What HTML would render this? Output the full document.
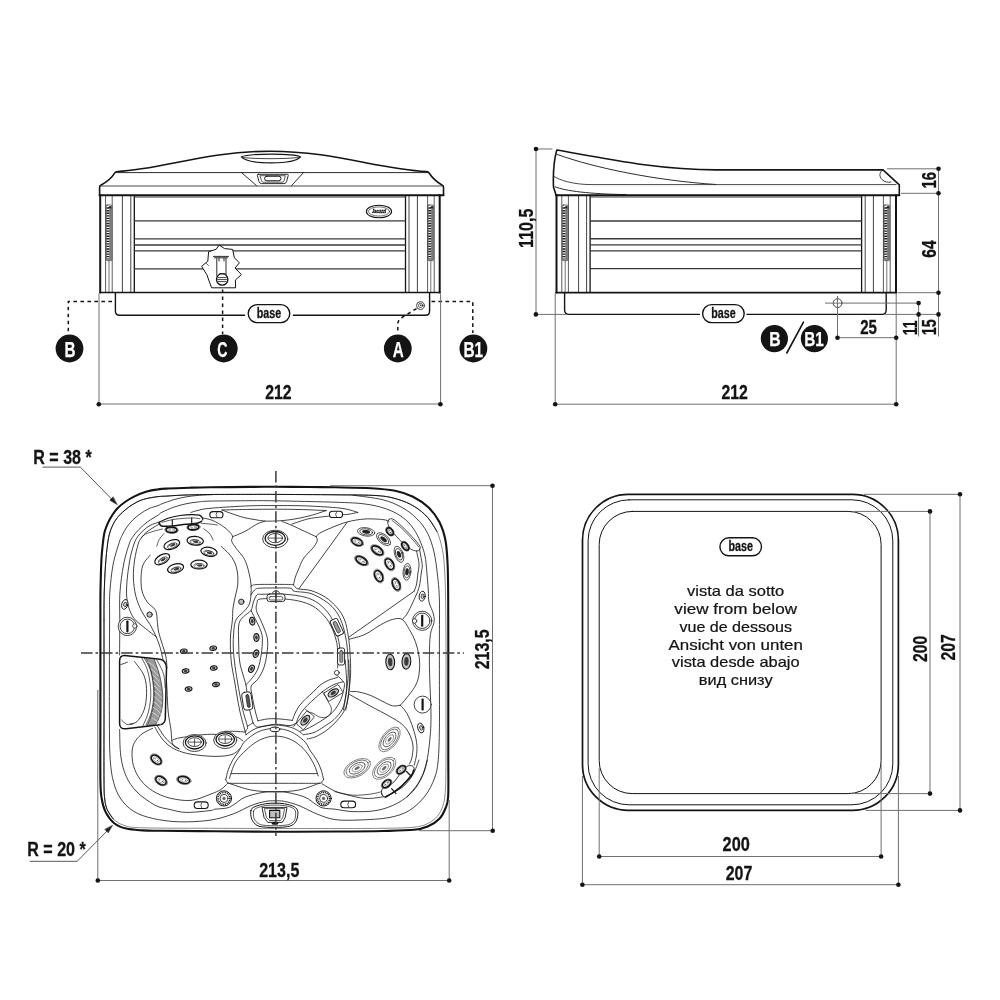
<!DOCTYPE html>
<html lang="en">
<head>
<meta charset="utf-8">
<title>Spa technical drawing</title>
<style>
html,body{margin:0;padding:0;background:#fff;}
body{width:1000px;height:1000px;overflow:hidden;font-family:'Liberation Sans', sans-serif;}
svg{display:block;will-change:transform;}
svg text{font-family:'Liberation Sans', sans-serif;}
</style>
</head>
<body>
<svg width="1000" height="1000" viewBox="0 0 1000 1000" fill="none" stroke-linecap="round" stroke-linejoin="round">
<rect x="0" y="0" width="1000" height="1000" fill="#ffffff"/>
<g id="front-view">
<path d="M99.6,195 L99.6,187 Q99.6,185.8 100.8,185.2 C108,181.5 112,177.5 114.6,173.2 Q115.6,171.5 117.5,171.5 C162.5,169.5 205,151.2 270,151.2 S378,169.5 426.5,171.6 Q428.3,171.7 429.3,173.2 C432,177.5 436,181.5 442.3,185.2 Q443.5,185.8 443.5,187 L443.5,195" stroke="#141414" stroke-width="1.6" fill="none" />
<path d="M116.5,172.6 L428,172.6 M241.5,172.6 L256.5,185.6 M303.5,172.6 L291.6,185.6" stroke="#141414" stroke-width="0.9" fill="none" />
<line x1="100" y1="186" x2="443" y2="186" stroke="#333" stroke-width="0.9" />
<line x1="99.6" y1="195.2" x2="443.5" y2="195.2" stroke="#141414" stroke-width="2.1" />
<path d="M241.2,156.9 C245,161 258,162.9 271,162.9 S297,161 300.6,156.9 C297,155 284,154.1 271,154.1 S245,155 241.2,156.9 Z" stroke="#141414" stroke-width="1.1" fill="none" />
<path d="M242.8,157.6 C252,158.4 262,158.7 271,158.7 S290,158.4 299,157.6" stroke="#141414" stroke-width="0.8" fill="none" />
<path d="M258.3,174.3 L287.3,174.3 Q288.6,174.3 288.2,175.6 L286.6,181.6 Q286,183.6 284,183.6 L261.6,183.6 Q259.6,183.6 259,181.6 L257.4,175.6 Q257,174.3 258.3,174.3 Z" stroke="#141414" stroke-width="0.9" fill="none" />
<path d="M260.3,175.7 L285.3,175.7 L284,181 Q283.6,182.2 282.4,182.2 L263.2,182.2 Q262,182.2 261.6,181 Z" stroke="#141414" stroke-width="0.7" fill="none" />
<rect x="264.6" y="176.2" width="16.4" height="4.6" rx="2.3" stroke="#141414" stroke-width="1"/>
<line x1="100.2" y1="195" x2="100.2" y2="292.4" stroke="#141414" stroke-width="2.0" />
<line x1="439.7" y1="195" x2="439.7" y2="292.4" stroke="#141414" stroke-width="2.0" />
<line x1="100" y1="292.5" x2="440" y2="292.5" stroke="#141414" stroke-width="1.7" />
<line x1="105.6" y1="196" x2="105.6" y2="292" stroke="#141414" stroke-width="0.7" />
<line x1="112.2" y1="196" x2="112.2" y2="292" stroke="#141414" stroke-width="0.7" />
<line x1="122.4" y1="196" x2="122.4" y2="292" stroke="#141414" stroke-width="0.8" />
<line x1="130.8" y1="196" x2="130.8" y2="292" stroke="#141414" stroke-width="0.8" />
<line x1="134.3" y1="196" x2="134.3" y2="292" stroke="#141414" stroke-width="1.3" />
<line x1="405.5" y1="196" x2="405.5" y2="292" stroke="#141414" stroke-width="1.3" />
<line x1="409" y1="196" x2="409" y2="292" stroke="#141414" stroke-width="0.8" />
<line x1="417.4" y1="196" x2="417.4" y2="292" stroke="#141414" stroke-width="0.8" />
<line x1="427.6" y1="196" x2="427.6" y2="292" stroke="#141414" stroke-width="0.7" />
<line x1="434.2" y1="196" x2="434.2" y2="292" stroke="#141414" stroke-width="0.7" />
<line x1="109" y1="261" x2="109" y2="292" stroke="#141414" stroke-width="0.6" />
<line x1="430.8" y1="261" x2="430.8" y2="292" stroke="#141414" stroke-width="0.6" />
<rect x="106.2" y="205" width="5.6" height="55.6" rx="1" fill="#fff" stroke="#222" stroke-width="0.7"/><rect x="109.3" y="206" width="2.4" height="54.1" fill="#777"/><line x1="107.9" y1="207.5" x2="107.9" y2="259.6" stroke="#1a1a1a" stroke-width="2.8" stroke-dasharray="1.35 1.2" stroke-linecap="butt"/><path d="M106.8,207.6l4.2,-1.6l0.4,2.4z" fill="#222"/>
<rect x="428" y="205" width="5.6" height="55.6" rx="1" fill="#fff" stroke="#222" stroke-width="0.7"/><rect x="431.1" y="206" width="2.4" height="54.1" fill="#777"/><line x1="429.7" y1="207.5" x2="429.7" y2="259.6" stroke="#1a1a1a" stroke-width="2.8" stroke-dasharray="1.35 1.2" stroke-linecap="butt"/><path d="M428.6,207.6l4.2,-1.6l0.4,2.4z" fill="#222"/>
<line x1="134.3" y1="197" x2="405.5" y2="197" stroke="#383838" stroke-width="1.0" stroke-linecap="butt"/>
<line x1="134.3" y1="220.8" x2="405.5" y2="220.8" stroke="#383838" stroke-width="1.3" stroke-linecap="butt"/>
<line x1="134.3" y1="238.9" x2="405.5" y2="238.9" stroke="#383838" stroke-width="1.4" stroke-linecap="butt"/>
<line x1="134.3" y1="245" x2="405.5" y2="245" stroke="#383838" stroke-width="1.3" stroke-linecap="butt"/>
<line x1="134.3" y1="250.9" x2="405.5" y2="250.9" stroke="#383838" stroke-width="1.3" stroke-linecap="butt"/>
<line x1="134.3" y1="268.8" x2="405.5" y2="268.8" stroke="#383838" stroke-width="1.3" stroke-linecap="butt"/>
<ellipse cx="379" cy="211.5" rx="12.6" ry="6.2" stroke="#141414" stroke-width="1.1"/>
<ellipse cx="379" cy="211.5" rx="10.6" ry="4.6" stroke="#141414" stroke-width="0.6"/>
<text x="379" y="213.2" font-size="4.6" font-weight="bold" text-anchor="middle" fill="#141414" stroke="#141414" stroke-width="0.3" stroke-linejoin="miter" textLength="14" lengthAdjust="spacingAndGlyphs" font-style="italic">Jacuzzi</text>
<path d="M115.4,293 L115.4,311 Q115.4,315.3 119.6,315.3 L244.6,315.3 M293.4,315.3 L425.4,315.3 Q429.6,315.3 429.6,311 L429.6,293" stroke="#141414" stroke-width="1.4" fill="none" />
<rect x="248.2" y="304.6" width="41.6" height="18" rx="9.0" fill="#fff" stroke="#141414" stroke-width="1.4"/><text x="269" y="317.90000000000003" font-size="14.5" font-weight="bold" text-anchor="middle" fill="#141414" stroke="#141414" stroke-width="0.3" stroke-linejoin="miter" textLength="24.4" lengthAdjust="spacingAndGlyphs" >base</text>
<circle cx="420.4" cy="305.6" r="3.9" stroke="#141414" stroke-width="0.8"/><circle cx="420.6" cy="305.4" r="2.1" stroke="#141414" stroke-width="0.7"/><circle cx="420.8" cy="305.2" r="0.8" fill="#141414"/>
<path d="M219.4,245.2 L224.5,248.6 L232.6,249.4 L234.4,257.8 L239.4,262.8 L235,268 L241.4,274.6 L235.4,280 L235.6,287.8 L211.6,287.8 L206.8,274.6 L201.6,266.4 L207.8,261.2 L208.6,251.8 L215.8,249.4 Z" stroke="#141414" stroke-width="1.0" fill="#fff" />
<path d="M213.4,256.4 L228.6,256.4 M214.5,257.8 L227.5,257.8 M216.8,258.5 L216.8,276 M226,258.5 L226,276 M219,258 L219,261 M224,258 L224,261" stroke="#141414" stroke-width="0.9" fill="none" />
<circle cx="222.2" cy="279.4" r="5.7" stroke="#141414" stroke-width="1.3" fill="#fff"/>
<path d="M218,277.6 L226.4,277.6 M217.6,279.6 L226.8,279.6 M218.2,281.6 L226.2,281.6 M219.5,273.8 L225,273.8" stroke="#141414" stroke-width="0.8" fill="none" />
<path d="M206.5,263.5 L208.5,265.5" stroke="#141414" stroke-width="0.7" fill="none" />
<path d="M112,301.4 L68.3,301.4 L68.3,333" stroke="#141414" stroke-width="1.5" fill="none" stroke-dasharray="3.6 3.4" stroke-linecap="butt"/>
<path d="M222.6,289.5 L222.6,334" stroke="#141414" stroke-width="1.5" fill="none" stroke-dasharray="3.6 3.4" stroke-linecap="butt"/>
<path d="M431.5,301.6 L472.8,301.6 L472.8,333" stroke="#141414" stroke-width="1.5" fill="none" stroke-dasharray="3.6 3.4" stroke-linecap="butt"/>
<path d="M416.5,308.6 L402,317.5 Q397.8,320 397.8,324 L397.8,334" stroke="#141414" stroke-width="1.5" fill="none" stroke-dasharray="3.6 3.4" stroke-linecap="butt"/>
<circle cx="69.5" cy="348.5" r="13.9" fill="#141414"/><text x="70.1" y="356.5" font-size="22" font-weight="bold" text-anchor="middle" fill="#fff" stroke="#fff" stroke-width="0.25" stroke-linejoin="miter" textLength="11" lengthAdjust="spacingAndGlyphs" >B</text>
<circle cx="223.75" cy="348.5" r="13.9" fill="#141414"/><text x="222.35" y="356.5" font-size="22" font-weight="bold" text-anchor="middle" fill="#fff" stroke="#fff" stroke-width="0.25" stroke-linejoin="miter" textLength="10.2" lengthAdjust="spacingAndGlyphs" >C</text>
<circle cx="397.8" cy="348.5" r="13.9" fill="#141414"/><text x="398.3" y="356.5" font-size="22" font-weight="bold" text-anchor="middle" fill="#fff" stroke="#fff" stroke-width="0.25" stroke-linejoin="miter" textLength="11" lengthAdjust="spacingAndGlyphs" >A</text>
<circle cx="473.4" cy="348.5" r="13.9" fill="#141414"/><text x="473.2" y="356.5" font-size="22" font-weight="bold" text-anchor="middle" fill="#fff" stroke="#fff" stroke-width="0.25" stroke-linejoin="miter" textLength="19.6" lengthAdjust="spacingAndGlyphs" >B1</text>
<line x1="99" y1="293.5" x2="99" y2="404" stroke="#6c7174" stroke-width="1" stroke-linecap="butt"/>
<line x1="440.6" y1="293.5" x2="440.6" y2="404" stroke="#6c7174" stroke-width="1" stroke-linecap="butt"/>
<line x1="99" y1="404" x2="440.6" y2="404" stroke="#6c7174" stroke-width="1" stroke-linecap="butt"/>
<circle cx="98.8" cy="404.2" r="2.3" fill="#141414"/>
<circle cx="440.4" cy="404.2" r="2.3" fill="#141414"/>
<text x="278.4" y="398.9" font-size="20" font-weight="bold" text-anchor="middle" fill="#141414" stroke="#141414" stroke-width="0.3" stroke-linejoin="miter" textLength="26.4" lengthAdjust="spacingAndGlyphs" >212</text>
</g>
<g id="side-view">
<path d="M556,195 L553.5,187 C553,175 554,160 556.8,150 C610,159.5 660,169.9 716.3,169.9 L883,169.9 L899.3,184.8 L899.3,195" stroke="#141414" stroke-width="1.6" fill="none" />
<path d="M557,154.4 C595,168 655,180.5 716,184.5" stroke="#141414" stroke-width="0.9" fill="none" />
<path d="M554,176.5 C560,180 572,184.6 592,184.6 L896,184.6" stroke="#333" stroke-width="0.9" fill="none" />
<path d="M555.2,186.8 C565,191 590,194 626,194.6" stroke="#141414" stroke-width="0.9" fill="none" />
<path d="M883,170 C879,172 879,176.5 882,179.5 C884.5,182 888,182.8 891,182" stroke="#141414" stroke-width="0.8" fill="none" />
<line x1="556" y1="195.2" x2="899.3" y2="195.2" stroke="#141414" stroke-width="2.1" />
<line x1="556.5" y1="195" x2="556.5" y2="292.5" stroke="#141414" stroke-width="2.0" />
<line x1="896" y1="195" x2="896" y2="292.5" stroke="#141414" stroke-width="2.0" />
<line x1="556" y1="292.7" x2="896.5" y2="292.7" stroke="#141414" stroke-width="1.7" />
<line x1="561.8" y1="196" x2="561.8" y2="292" stroke="#141414" stroke-width="0.7" />
<line x1="568.4" y1="196" x2="568.4" y2="292" stroke="#141414" stroke-width="0.7" />
<line x1="578.6" y1="196" x2="578.6" y2="292" stroke="#141414" stroke-width="0.8" />
<line x1="586.6" y1="196" x2="586.6" y2="292" stroke="#141414" stroke-width="0.8" />
<line x1="590.1" y1="196" x2="590.1" y2="292" stroke="#141414" stroke-width="1.3" />
<line x1="861.6" y1="196" x2="861.6" y2="292" stroke="#141414" stroke-width="1.3" />
<line x1="865.2" y1="196" x2="865.2" y2="292" stroke="#141414" stroke-width="0.8" />
<line x1="873.4" y1="196" x2="873.4" y2="292" stroke="#141414" stroke-width="0.8" />
<line x1="883.4" y1="196" x2="883.4" y2="292" stroke="#141414" stroke-width="0.7" />
<line x1="890.2" y1="196" x2="890.2" y2="292" stroke="#141414" stroke-width="0.7" />
<line x1="565.2" y1="261" x2="565.2" y2="292" stroke="#141414" stroke-width="0.6" />
<line x1="886.8" y1="261" x2="886.8" y2="292" stroke="#141414" stroke-width="0.6" />
<rect x="562.3" y="205" width="5.6" height="55.6" rx="1" fill="#fff" stroke="#222" stroke-width="0.7"/><rect x="565.4" y="206" width="2.4" height="54.1" fill="#777"/><line x1="564.0" y1="207.5" x2="564.0" y2="259.6" stroke="#1a1a1a" stroke-width="2.8" stroke-dasharray="1.35 1.2" stroke-linecap="butt"/><path d="M562.9,207.6l4.2,-1.6l0.4,2.4z" fill="#222"/>
<rect x="884" y="205" width="5.6" height="55.6" rx="1" fill="#fff" stroke="#222" stroke-width="0.7"/><rect x="887.1" y="206" width="2.4" height="54.1" fill="#777"/><line x1="885.7" y1="207.5" x2="885.7" y2="259.6" stroke="#1a1a1a" stroke-width="2.8" stroke-dasharray="1.35 1.2" stroke-linecap="butt"/><path d="M884.6,207.6l4.2,-1.6l0.4,2.4z" fill="#222"/>
<line x1="590.1" y1="197" x2="861.6" y2="197" stroke="#383838" stroke-width="1.0" stroke-linecap="butt"/>
<line x1="590.1" y1="221" x2="861.6" y2="221" stroke="#383838" stroke-width="1.3" stroke-linecap="butt"/>
<line x1="590.1" y1="238.8" x2="861.6" y2="238.8" stroke="#383838" stroke-width="1.4" stroke-linecap="butt"/>
<line x1="590.1" y1="244.9" x2="861.6" y2="244.9" stroke="#383838" stroke-width="1.3" stroke-linecap="butt"/>
<line x1="590.1" y1="250.8" x2="861.6" y2="250.8" stroke="#383838" stroke-width="1.3" stroke-linecap="butt"/>
<line x1="590.1" y1="268.6" x2="861.6" y2="268.6" stroke="#383838" stroke-width="1.3" stroke-linecap="butt"/>
<path d="M564.6,293 L564.6,310 Q564.6,314.4 569,314.4 L699.4,314.4 M747,314.4 L882,314.4 Q886.2,314.4 886.2,310 L886.2,293" stroke="#141414" stroke-width="1.4" fill="none" />
<rect x="702.6" y="304.6" width="41.6" height="18" rx="9.0" fill="#fff" stroke="#141414" stroke-width="1.4"/><text x="723.4" y="317.90000000000003" font-size="14.5" font-weight="bold" text-anchor="middle" fill="#141414" stroke="#141414" stroke-width="0.3" stroke-linejoin="miter" textLength="24.4" lengthAdjust="spacingAndGlyphs" >base</text>
<circle cx="837.6" cy="303.1" r="4.4" stroke="#141414" stroke-width="0.8"/>
<line x1="825" y1="303.1" x2="918.6" y2="303.1" stroke="#6c7174" stroke-width="1" stroke-linecap="butt"/>
<line x1="837.5" y1="296" x2="837.5" y2="337.7" stroke="#6c7174" stroke-width="1" stroke-linecap="butt"/>
<circle cx="774.4" cy="338.6" r="13.6" fill="#141414"/><text x="774.9" y="345.6" font-size="20.3" font-weight="bold" text-anchor="middle" fill="#fff" stroke="#fff" stroke-width="0.25" stroke-linejoin="miter" textLength="11.4" lengthAdjust="spacingAndGlyphs" >B</text>
<circle cx="814.4" cy="338.6" r="13.6" fill="#141414"/><text x="814.0" y="345.6" font-size="20.3" font-weight="bold" text-anchor="middle" fill="#fff" stroke="#fff" stroke-width="0.25" stroke-linejoin="miter" textLength="19.6" lengthAdjust="spacingAndGlyphs" >B1</text>
<line x1="803.5" y1="322.2" x2="786.8" y2="353" stroke="#141414" stroke-width="1.6" />
<line x1="536" y1="149" x2="536" y2="314.4" stroke="#6c7174" stroke-width="1" stroke-linecap="butt"/>
<line x1="536" y1="149" x2="552.5" y2="149" stroke="#6c7174" stroke-width="1" stroke-linecap="butt"/>
<line x1="536" y1="314.4" x2="566" y2="314.4" stroke="#6c7174" stroke-width="1" stroke-linecap="butt"/>
<circle cx="536" cy="149" r="2.3" fill="#141414"/>
<circle cx="535.9" cy="314.4" r="2.3" fill="#141414"/>
<text x="533" y="228.2" font-size="20" font-weight="bold" text-anchor="middle" fill="#141414" stroke="#141414" stroke-width="0.3" stroke-linejoin="miter" textLength="39.4" lengthAdjust="spacingAndGlyphs" transform="rotate(-90 533 228.2)" >110,5</text>
<line x1="555.2" y1="293.5" x2="555.2" y2="404.2" stroke="#6c7174" stroke-width="1" stroke-linecap="butt"/>
<line x1="896.2" y1="293.5" x2="896.2" y2="404.2" stroke="#6c7174" stroke-width="1" stroke-linecap="butt"/>
<line x1="555.2" y1="404.2" x2="896.2" y2="404.2" stroke="#6c7174" stroke-width="1" stroke-linecap="butt"/>
<circle cx="555.2" cy="404.2" r="2.3" fill="#141414"/>
<circle cx="896.2" cy="404.2" r="2.3" fill="#141414"/>
<text x="734.7" y="399" font-size="20" font-weight="bold" text-anchor="middle" fill="#141414" stroke="#141414" stroke-width="0.3" stroke-linejoin="miter" textLength="26.4" lengthAdjust="spacingAndGlyphs" >212</text>
<line x1="887" y1="168.8" x2="938.5" y2="168.8" stroke="#6c7174" stroke-width="1" stroke-linecap="butt"/>
<line x1="901" y1="193.3" x2="938.5" y2="193.3" stroke="#6c7174" stroke-width="1" stroke-linecap="butt"/>
<line x1="898" y1="292.7" x2="938.5" y2="292.7" stroke="#6c7174" stroke-width="1" stroke-linecap="butt"/>
<line x1="885" y1="314.4" x2="938.5" y2="314.4" stroke="#6c7174" stroke-width="1" stroke-linecap="butt"/>
<line x1="938.5" y1="168.8" x2="938.5" y2="336.5" stroke="#6c7174" stroke-width="1" stroke-linecap="butt"/>
<line x1="918.6" y1="303.1" x2="918.6" y2="336.5" stroke="#6c7174" stroke-width="1" stroke-linecap="butt"/>
<line x1="837.5" y1="337.7" x2="896.2" y2="337.7" stroke="#6c7174" stroke-width="1" stroke-linecap="butt"/>
<circle cx="938.5" cy="168.8" r="2.3" fill="#141414"/>
<circle cx="938.5" cy="193.3" r="2.3" fill="#141414"/>
<circle cx="938.5" cy="292.7" r="2.3" fill="#141414"/>
<circle cx="938.5" cy="314.4" r="2.3" fill="#141414"/>
<circle cx="918.6" cy="303.1" r="2.3" fill="#141414"/>
<circle cx="918.6" cy="314.4" r="2.3" fill="#141414"/>
<circle cx="837.5" cy="337.7" r="2.3" fill="#141414"/>
<circle cx="896.2" cy="337.7" r="2.3" fill="#141414"/>
<text x="935.9" y="180.3" font-size="20" font-weight="bold" text-anchor="middle" fill="#141414" stroke="#141414" stroke-width="0.3" stroke-linejoin="miter" textLength="16.6" lengthAdjust="spacingAndGlyphs" transform="rotate(-90 935.9 180.3)" >16</text>
<text x="935.9" y="249.1" font-size="20" font-weight="bold" text-anchor="middle" fill="#141414" stroke="#141414" stroke-width="0.3" stroke-linejoin="miter" textLength="17.3" lengthAdjust="spacingAndGlyphs" transform="rotate(-90 935.9 249.1)" >64</text>
<text x="916.6" y="327.8" font-size="20" font-weight="bold" text-anchor="middle" fill="#141414" stroke="#141414" stroke-width="0.3" stroke-linejoin="miter" textLength="15" lengthAdjust="spacingAndGlyphs" transform="rotate(-90 916.6 327.8)" >11</text>
<text x="936.1" y="327.3" font-size="20" font-weight="bold" text-anchor="middle" fill="#141414" stroke="#141414" stroke-width="0.3" stroke-linejoin="miter" textLength="16" lengthAdjust="spacingAndGlyphs" transform="rotate(-90 936.1 327.3)" >15</text>
<text x="868.6" y="334.3" font-size="20" font-weight="bold" text-anchor="middle" fill="#141414" stroke="#141414" stroke-width="0.3" stroke-linejoin="miter" textLength="16.8" lengthAdjust="spacingAndGlyphs" >25</text>
</g>
<g id="bottom-view">
<rect x="582.5" y="494.3" width="315.9" height="316.1" rx="46" stroke="#141414" stroke-width="1.7"/>
<rect x="588.1" y="499.8" width="304.7" height="305.0" rx="41" stroke="#141414" stroke-width="1.0"/>
<rect x="599.2" y="511.4" width="281.9" height="282.2" rx="33" stroke="#141414" stroke-width="1.0"/>
<rect x="719.9000000000001" y="537.8" width="41.6" height="18" rx="9.0" fill="#fff" stroke="#141414" stroke-width="1.4"/><text x="740.7" y="551.0999999999999" font-size="14.5" font-weight="bold" text-anchor="middle" fill="#141414" stroke="#141414" stroke-width="0.3" stroke-linejoin="miter" textLength="24.4" lengthAdjust="spacingAndGlyphs" >base</text>
<text x="735.7" y="595.6" font-size="14.8" font-weight="normal" text-anchor="middle" fill="#141414" textLength="97.2" lengthAdjust="spacingAndGlyphs" stroke="#141414" stroke-width="0.22">vista da sotto</text>
<text x="735.7" y="613.6" font-size="14.8" font-weight="normal" text-anchor="middle" fill="#141414" textLength="122.7" lengthAdjust="spacingAndGlyphs" stroke="#141414" stroke-width="0.22">view from below</text>
<text x="735.7" y="631.5" font-size="14.8" font-weight="normal" text-anchor="middle" fill="#141414" textLength="112.5" lengthAdjust="spacingAndGlyphs" stroke="#141414" stroke-width="0.22">vue de dessous</text>
<text x="735.7" y="649.5" font-size="14.8" font-weight="normal" text-anchor="middle" fill="#141414" textLength="134.4" lengthAdjust="spacingAndGlyphs" stroke="#141414" stroke-width="0.22">Ansicht von unten</text>
<text x="735.7" y="667.3" font-size="14.8" font-weight="normal" text-anchor="middle" fill="#141414" textLength="127.8" lengthAdjust="spacingAndGlyphs" stroke="#141414" stroke-width="0.22">vista desde abajo</text>
<text x="735.7" y="685.2" font-size="14.8" font-weight="normal" text-anchor="middle" fill="#141414" textLength="73.8" lengthAdjust="spacingAndGlyphs" stroke="#141414" stroke-width="0.22">вид снизу</text>
<line x1="864" y1="494.3" x2="960" y2="494.3" stroke="#6c7174" stroke-width="1" stroke-linecap="butt"/>
<line x1="854.4" y1="511.4" x2="930" y2="511.4" stroke="#6c7174" stroke-width="1" stroke-linecap="butt"/>
<line x1="851" y1="793.6" x2="930" y2="793.6" stroke="#6c7174" stroke-width="1" stroke-linecap="butt"/>
<line x1="865.6" y1="810.4" x2="960" y2="810.4" stroke="#6c7174" stroke-width="1" stroke-linecap="butt"/>
<line x1="930" y1="511.4" x2="930" y2="793.6" stroke="#6c7174" stroke-width="1" stroke-linecap="butt"/>
<line x1="960" y1="494.3" x2="960" y2="810.4" stroke="#6c7174" stroke-width="1" stroke-linecap="butt"/>
<line x1="599.2" y1="768" x2="599.2" y2="856.5" stroke="#6c7174" stroke-width="1" stroke-linecap="butt"/>
<line x1="881.1" y1="764" x2="881.1" y2="856.5" stroke="#6c7174" stroke-width="1" stroke-linecap="butt"/>
<line x1="599.2" y1="856.5" x2="881.1" y2="856.5" stroke="#6c7174" stroke-width="1" stroke-linecap="butt"/>
<line x1="582.4" y1="776" x2="582.4" y2="884.7" stroke="#6c7174" stroke-width="1" stroke-linecap="butt"/>
<line x1="898.4" y1="776" x2="898.4" y2="884.7" stroke="#6c7174" stroke-width="1" stroke-linecap="butt"/>
<line x1="582.4" y1="884.7" x2="898.4" y2="884.7" stroke="#6c7174" stroke-width="1" stroke-linecap="butt"/>
<circle cx="960" cy="494.3" r="2.3" fill="#141414"/>
<circle cx="930" cy="511.4" r="2.3" fill="#141414"/>
<circle cx="930" cy="793.6" r="2.3" fill="#141414"/>
<circle cx="960" cy="810.4" r="2.3" fill="#141414"/>
<circle cx="599.2" cy="856.5" r="2.3" fill="#141414"/>
<circle cx="881.1" cy="856.5" r="2.3" fill="#141414"/>
<circle cx="582.4" cy="884.7" r="2.3" fill="#141414"/>
<circle cx="898.4" cy="884.7" r="2.3" fill="#141414"/>
<text x="736.2" y="850.7" font-size="20" font-weight="bold" text-anchor="middle" fill="#141414" stroke="#141414" stroke-width="0.3" stroke-linejoin="miter" textLength="27.2" lengthAdjust="spacingAndGlyphs" >200</text>
<text x="739" y="880.3" font-size="20" font-weight="bold" text-anchor="middle" fill="#141414" stroke="#141414" stroke-width="0.3" stroke-linejoin="miter" textLength="26.6" lengthAdjust="spacingAndGlyphs" >207</text>
<text x="926.7" y="648.9" font-size="20" font-weight="bold" text-anchor="middle" fill="#141414" stroke="#141414" stroke-width="0.3" stroke-linejoin="miter" textLength="26" lengthAdjust="spacingAndGlyphs" transform="rotate(-90 926.7 648.9)" >200</text>
<text x="954.7" y="647.3" font-size="20" font-weight="bold" text-anchor="middle" fill="#141414" stroke="#141414" stroke-width="0.3" stroke-linejoin="miter" textLength="26.2" lengthAdjust="spacingAndGlyphs" transform="rotate(-90 954.7 647.3)" >207</text>
</g>
<g id="top-view">
<path d="M100.4,620.0C100.4,608.3 100.3,600.0 100.5,590.0C100.7,580.0 101.0,567.7 101.4,560.0C101.8,552.3 102.3,548.7 102.8,544.0C103.3,539.3 103.7,535.6 104.6,532.0C105.5,528.4 106.8,525.4 108.2,522.4C109.6,519.4 111.4,516.4 113.0,514.0C114.6,511.6 115.8,510.0 117.8,508.0C119.8,506.0 122.3,503.9 125.0,502.0C127.7,500.1 130.5,498.3 134.0,496.6C137.5,494.9 142.0,493.0 146.0,491.8C150.0,490.6 154.3,489.9 158.0,489.4C161.7,488.8 162.7,488.8 168.0,488.5C173.3,488.2 183.0,487.9 190.0,487.7C197.0,487.5 200.0,487.4 210.0,487.3C220.0,487.2 239.2,487.0 250.0,486.9C260.8,486.8 265.0,486.8 275.0,486.8C285.0,486.8 300.0,486.9 310.0,487.0C320.0,487.1 324.8,487.1 335.0,487.3C345.2,487.5 361.0,487.6 371.0,488.2C381.0,488.8 388.0,489.4 395.0,490.8C402.0,492.2 407.4,494.0 413.0,496.8C418.6,499.6 424.2,503.4 428.6,507.6C433.0,511.8 436.6,516.6 439.4,522.0C442.2,527.4 444.0,533.0 445.4,540.0C446.8,547.0 447.1,554.0 447.6,564.0C448.1,574.0 448.1,584.0 448.2,600.0C448.3,616.0 448.3,640.0 448.3,660.0C448.3,680.0 448.3,703.3 448.3,720.0C448.3,736.7 448.3,747.3 448.3,760.0C448.3,772.7 448.6,788.0 448.2,796.0C447.8,804.0 447.1,804.2 445.6,808.0C444.1,811.8 442.2,815.8 439.4,818.8C436.6,821.8 432.8,824.2 428.6,826.0C424.4,827.8 421.8,829.0 414.2,829.8C406.6,830.6 396.2,830.7 383.0,831.0C369.8,831.3 353.0,831.4 335.0,831.5C317.0,831.6 295.0,831.8 275.0,831.7C255.0,831.7 234.2,831.4 215.0,831.2C195.8,831.1 172.0,830.9 160.0,830.8C148.0,830.7 148.6,830.8 143.0,830.4C137.4,830.0 131.0,829.8 126.2,828.6C121.4,827.4 117.6,825.9 114.2,823.2C110.8,820.5 107.9,816.6 105.8,812.4C103.7,808.2 102.5,803.4 101.6,798.0C100.7,792.6 100.6,793.0 100.4,780.0C100.2,767.0 100.4,740.0 100.4,720.0C100.4,700.0 100.4,676.7 100.4,660.0C100.4,643.3 100.4,631.7 100.4,620.0Z" stroke="#141414" stroke-width="2.1" fill="none" />
<path d="M104.0,620.0C104.0,608.8 104.0,602.2 104.2,593.0C104.5,583.8 104.9,573.2 105.5,565.0C106.1,556.8 106.8,549.5 107.6,544.0C108.3,538.5 108.9,535.6 110.0,532.0C111.1,528.4 112.8,525.0 114.2,522.4C115.6,519.8 117.0,518.1 118.4,516.4C119.8,514.7 120.8,513.8 122.6,512.2C124.4,510.6 126.8,508.5 129.2,506.8C131.6,505.1 134.2,503.4 137.0,502.0C139.8,500.6 142.5,499.6 146.0,498.7C149.5,497.8 154.3,497.1 158.0,496.6C161.7,496.2 163.3,496.3 168.0,496.0C172.7,495.7 179.0,495.2 186.0,495.0C193.0,494.8 199.3,494.6 210.0,494.5C220.7,494.4 239.2,494.4 250.0,494.4C260.8,494.4 260.8,494.3 275.0,494.4C289.2,494.5 318.0,494.6 335.0,494.8C352.0,495.0 366.6,494.9 377.0,495.6C387.4,496.3 391.2,497.4 397.4,499.2C403.6,501.0 409.2,503.4 414.2,506.4C419.2,509.4 423.6,513.0 427.4,517.2C431.2,521.4 434.5,526.2 437.0,531.6C439.5,537.0 441.1,543.2 442.4,549.6C443.7,556.0 444.1,561.6 444.6,570.0C445.1,578.4 445.4,588.3 445.6,600.0C445.8,611.7 445.9,623.3 446.0,640.0C446.1,656.7 446.0,680.0 446.0,700.0C446.0,720.0 446.1,745.0 446.0,760.0C445.9,775.0 445.9,782.4 445.4,790.0C444.9,797.6 444.4,801.1 443.0,805.5C441.6,809.9 439.9,813.2 437.3,816.2C434.7,819.2 431.5,821.8 427.6,823.6C423.7,825.4 421.4,826.4 414.0,827.2C406.6,828.0 396.2,828.1 383.0,828.3C369.8,828.5 353.0,828.5 335.0,828.5C317.0,828.5 295.0,828.5 275.0,828.5C255.0,828.5 237.0,828.4 215.0,828.3C193.0,828.2 158.1,828.3 143.0,827.8C127.9,827.3 129.1,826.9 124.2,825.4C119.3,823.9 116.2,821.6 113.4,819.0C110.6,816.4 108.7,813.1 107.2,809.6C105.7,806.1 105.1,802.9 104.6,798.0C104.1,793.1 104.1,793.0 104.0,780.0C103.9,767.0 104.0,740.0 104.0,720.0C104.0,700.0 104.0,676.7 104.0,660.0C104.0,643.3 104.0,631.2 104.0,620.0Z" stroke="#3a3a3a" stroke-width="0.6" fill="none" />
<path d="M113.4,819.0C112.4,817.4 108.7,813.1 107.2,809.6C105.7,806.1 105.1,802.9 104.6,798.0C104.1,793.1 104.1,793.0 104.0,780.0C103.9,767.0 104.0,740.0 104.0,720.0C104.0,700.0 104.0,676.7 104.0,660.0C104.0,643.3 104.0,631.2 104.0,620.0C104.0,608.8 104.0,602.2 104.2,593.0C104.5,583.8 104.9,573.2 105.5,565.0C106.1,556.8 106.8,549.5 107.6,544.0C108.3,538.5 108.9,535.6 110.0,532.0C111.1,528.4 112.8,525.0 114.2,522.4C115.6,519.8 117.0,518.1 118.4,516.4C119.8,514.7 120.8,513.8 122.6,512.2C124.4,510.6 126.8,508.5 129.2,506.8C131.6,505.1 134.2,503.4 137.0,502.0C139.8,500.6 142.5,499.6 146.0,498.7C149.5,497.8 154.3,497.1 158.0,496.6C161.7,496.2 163.3,496.3 168.0,496.0C172.7,495.7 179.0,495.2 186.0,495.0C193.0,494.8 199.3,494.6 210.0,494.5C220.7,494.4 239.2,494.4 250.0,494.4C260.8,494.4 260.8,494.3 275.0,494.4C289.2,494.5 318.0,494.6 335.0,494.8C352.0,495.0 366.6,494.9 377.0,495.6C387.4,496.3 391.2,497.4 397.4,499.2C403.6,501.0 409.2,503.4 414.2,506.4C419.2,509.4 423.6,513.0 427.4,517.2C431.2,521.4 435.4,529.2 437.0,531.6" stroke="#141414" stroke-width="1.0" fill="none" />
<path d="M212.0,494.7C209.7,494.8 202.3,495.0 198.0,495.4C193.7,495.8 190.0,496.2 186.0,496.9C182.0,497.6 178.0,498.5 174.0,499.6C170.0,500.8 164.7,502.8 162.0,503.8C159.3,504.8 160.2,504.8 158.0,505.6C155.8,506.4 152.0,507.2 149.0,508.6C146.0,510.0 142.7,512.1 140.0,514.0C137.3,515.9 135.0,517.8 132.8,520.0C130.6,522.2 128.6,524.6 126.8,527.2C125.0,529.8 123.3,532.8 122.0,535.6C120.7,538.4 120.2,539.1 118.7,544.0C117.2,548.9 114.5,556.8 113.0,565.0C111.5,573.2 110.4,583.8 109.8,593.0C109.2,602.2 109.7,605.5 109.6,620.0C109.5,634.5 109.4,663.3 109.4,680.0C109.4,696.7 109.3,707.3 109.4,720.0C109.5,732.7 109.4,746.0 110.0,756.0C110.6,766.0 111.3,773.0 113.0,780.0C114.7,787.0 116.8,792.8 120.2,798.0C123.6,803.2 128.0,807.8 133.4,811.2C138.8,814.6 145.0,816.6 152.6,818.4C160.2,820.2 169.4,821.5 179.0,821.8C188.6,822.1 201.0,821.5 210.0,820.2C219.0,818.9 226.2,816.4 233.0,814.0C239.8,811.6 245.6,807.7 251.0,805.6C256.4,803.5 261.4,802.2 265.4,801.4C269.4,800.6 271.8,800.8 275.0,800.8C278.2,800.8 280.6,800.6 284.6,801.4C288.6,802.2 293.6,803.5 299.0,805.6C304.4,807.7 311.0,811.7 317.0,814.0C323.0,816.3 328.0,818.6 335.0,819.6C342.0,820.6 350.0,820.3 359.0,820.0C368.0,819.7 380.6,819.2 389.0,817.6C397.4,816.0 403.4,814.0 409.4,810.4C415.4,806.8 420.8,801.4 425.0,796.0C429.2,790.6 432.4,784.0 434.6,778.0C436.8,772.0 437.4,768.3 438.2,760.0C439.0,751.7 439.2,741.3 439.4,728.0C439.6,714.7 439.4,694.7 439.4,680.0C439.4,665.3 439.4,653.3 439.4,640.0C439.4,626.7 439.7,610.7 439.4,600.0C439.1,589.3 438.5,584.0 437.6,576.0C436.7,568.0 435.7,559.2 434.0,552.0C432.3,544.8 430.3,538.4 427.4,532.8C424.5,527.2 420.8,522.6 416.6,518.4C412.4,514.2 407.8,510.7 402.2,507.6C396.6,504.5 391.2,501.9 383.0,499.8C374.8,497.7 358.0,496.0 353.0,495.2" stroke="#141414" stroke-width="0.8" fill="none" />
<path d="M119.6,655.0C119.6,649.2 119.8,630.3 119.8,620.0C119.8,609.7 119.3,602.2 119.9,593.0C120.5,583.8 122.0,573.2 123.5,565.0C125.0,556.8 127.6,548.7 129.2,544.0C130.8,539.3 131.2,539.2 132.8,536.8C134.4,534.4 136.6,531.9 138.8,529.6C141.0,527.3 143.8,524.8 146.0,523.0C148.2,521.2 150.0,520.1 152.0,518.8C154.0,517.5 156.3,516.3 158.0,515.2C159.7,514.1 159.3,513.6 162.0,512.2C164.7,510.9 170.0,508.5 174.0,507.1C178.0,505.7 182.0,504.7 186.0,503.8C190.0,502.9 194.0,502.4 198.0,502.0C202.0,501.6 201.3,501.3 210.0,501.1C218.7,500.9 239.2,500.8 250.0,500.7C260.8,500.6 260.8,500.6 275.0,500.8C289.2,501.1 320.0,501.7 335.0,502.2C350.0,502.7 356.4,502.9 365.0,504.0C373.6,505.1 380.4,506.8 386.6,509.0C392.8,511.2 397.8,513.8 402.2,517.0C406.6,520.2 409.9,523.8 413.0,528.0C416.1,532.2 418.5,537.3 420.5,542.0C422.5,546.7 424.0,551.3 425.0,556.0C426.0,560.7 426.1,564.3 426.7,570.0C427.2,575.7 427.9,584.7 428.3,590.0C428.7,595.3 428.1,598.0 429.0,602.0C429.9,606.0 432.6,610.6 433.4,614.0C434.2,617.4 434.5,619.0 434.0,622.4C433.5,625.8 431.2,628.8 430.4,634.4C429.6,640.0 429.5,648.4 429.4,656.0C429.3,663.6 429.5,670.0 429.8,680.0C430.1,690.0 431.0,706.0 431.0,716.0C431.0,726.0 430.6,732.0 429.8,740.0C429.0,748.0 428.0,757.0 426.2,764.0C424.4,771.0 422.2,776.5 419.0,782.0C415.8,787.5 409.0,794.5 407.0,797.0" stroke="#141414" stroke-width="0.8" fill="none" />
<path d="M119.6,729.6C119.8,734.0 119.7,748.2 120.8,756.0C121.9,763.8 123.5,770.4 126.2,776.4C128.9,782.4 132.2,787.2 137.0,792.0C141.8,796.8 149.5,802.3 155.0,805.2C160.5,808.1 164.8,808.3 170.0,809.5C175.2,810.7 179.3,812.2 186.0,812.4C192.7,812.6 205.2,811.1 210.0,810.6C214.8,810.1 212.2,809.6 215.0,809.2C217.8,808.8 223.8,808.8 227.0,808.0C230.2,807.2 231.2,806.2 234.2,804.4C237.2,802.6 240.2,799.2 245.0,797.2C249.8,795.2 258.0,793.3 263.0,792.4C268.0,791.5 271.0,791.8 275.0,791.8C279.0,791.8 282.0,791.5 287.0,792.4C292.0,793.3 300.2,795.2 305.0,797.2C309.8,799.2 312.8,802.6 315.8,804.4C318.8,806.2 319.8,807.2 323.0,808.0C326.2,808.8 330.0,808.6 335.0,809.2C340.0,809.8 346.0,811.4 353.0,811.6C360.0,811.8 369.6,811.8 377.0,810.4C384.4,809.0 391.4,806.4 397.4,803.2C403.4,800.0 408.8,795.8 413.0,791.2C417.2,786.6 420.2,780.8 422.6,775.6C425.0,770.4 426.6,762.6 427.4,760.0" stroke="#141414" stroke-width="0.8" fill="none" />
<path d="M159.5,522.0C157.9,522.6 152.8,523.9 150.0,525.4C147.2,526.9 145.1,528.9 143.0,530.8C140.9,532.7 139.1,534.6 137.6,536.8C136.1,539.0 135.3,540.1 134.0,544.0C132.7,547.9 131.0,553.3 129.8,560.0C128.6,566.7 127.2,577.0 126.8,584.0C126.4,591.0 126.3,596.4 127.4,602.0C128.5,607.6 130.4,613.2 133.4,617.6C136.4,622.0 141.6,625.2 145.4,628.4C149.2,631.6 154.4,635.4 156.2,636.8" stroke="#141414" stroke-width="0.8" fill="none" />
<path d="M160.0,523.5C158.7,524.3 154.3,526.9 152.0,528.4C149.7,529.9 147.8,531.0 146.0,532.6C144.2,534.2 142.5,536.1 141.2,538.0C139.9,539.9 139.3,540.3 138.2,544.0C137.1,547.7 135.4,554.3 134.6,560.0C133.8,565.7 133.2,572.0 133.4,578.0C133.6,584.0 134.4,590.4 135.8,596.0C137.2,601.6 139.4,606.8 141.8,611.6C144.2,616.4 147.8,620.6 150.2,624.8C152.6,629.0 154.6,633.2 156.2,636.8C157.8,640.4 158.8,643.2 159.8,646.4C160.8,649.6 161.7,653.7 162.2,656.0C162.7,658.3 162.9,659.3 163.0,660.0" stroke="#141414" stroke-width="0.8" fill="none" />
<path d="M162.5,529.0C161.0,529.4 156.3,530.4 153.5,531.3C150.7,532.2 147.5,533.1 145.4,534.2C143.3,535.3 141.7,537.4 141.0,538.0" stroke="#141414" stroke-width="0.7" fill="none" />
<path d="M150.2,555.2C149.1,556.6 145.1,560.4 143.6,563.6C142.1,566.8 141.5,570.0 141.2,574.4C140.9,578.8 140.8,585.4 141.8,590.0C142.8,594.6 144.9,598.6 147.2,602.0C149.5,605.4 153.9,607.0 155.6,610.4C157.3,613.8 156.9,618.8 157.4,622.4C157.9,626.0 157.8,628.4 158.6,632.0C159.4,635.6 161.0,640.0 162.2,644.0C163.4,648.0 165.0,652.0 165.8,656.0C166.6,660.0 166.8,666.0 167.0,668.0" stroke="#141414" stroke-width="0.8" fill="none" />
<path d="M164.0,533.6C163.2,534.6 160.4,537.5 159.2,539.6C158.0,541.7 157.2,545.1 156.8,546.2" stroke="#141414" stroke-width="0.7" fill="none" />
<path d="M203.6,528.8C204.6,529.6 208.0,531.7 209.6,533.6C211.2,535.5 212.6,539.1 213.2,540.2" stroke="#141414" stroke-width="0.7" fill="none" />
<path d="M190.8,512.5C192.0,512.1 194.8,511.1 198.0,510.4C201.2,509.7 201.3,509.1 210.0,508.3C218.7,507.5 239.2,506.2 250.0,505.8C260.8,505.4 266.7,505.6 275.0,505.6C283.3,505.6 291.3,505.5 300.0,505.7C308.7,505.9 319.5,506.5 327.0,507.0C334.5,507.5 339.9,507.9 345.0,508.8C350.1,509.7 355.7,511.8 357.8,512.4" stroke="#141414" stroke-width="0.8" fill="none" />
<path d="M357.8,512.4C356.3,512.7 351.6,513.8 349.0,514.2C346.4,514.6 343.6,514.7 342.5,514.8" stroke="#141414" stroke-width="0.8" fill="none" />
<path d="M222.0,510.0C226.7,509.9 241.2,509.5 250.0,509.4C258.8,509.3 266.7,509.2 275.0,509.2C283.3,509.2 291.5,509.3 300.0,509.5C308.5,509.7 321.8,510.4 326.1,510.6" stroke="#141414" stroke-width="0.8" fill="none" />
<path d="M326.1,510.6C323.2,511.5 314.9,514.5 309.0,516.0C303.1,517.5 296.6,518.8 291.0,519.6C285.4,520.4 280.2,520.8 275.7,521.0C271.2,521.2 267.4,521.2 264.0,521.0C260.6,520.8 258.4,520.2 255.0,519.6C251.6,519.0 247.4,518.5 243.4,517.4C239.4,516.3 234.4,514.5 230.8,513.3C227.2,512.1 223.5,510.6 222.0,510.0" stroke="#141414" stroke-width="0.8" fill="none" />
<path d="M232.6,536.7C234.7,535.8 241.1,533.4 245.2,531.3C249.2,529.2 253.6,525.8 256.9,524.1C260.2,522.4 263.6,521.7 265.0,521.2" stroke="#141414" stroke-width="0.8" fill="none" />
<path d="M159.0,522.4C160.5,521.7 164.5,519.4 168.0,518.2C171.5,517.1 176.0,516.1 180.0,515.5C184.0,514.9 188.8,514.6 192.0,514.6C195.2,514.6 197.5,514.7 199.2,515.2C200.9,515.7 201.6,516.8 202.2,517.6C202.8,518.4 202.7,519.6 202.8,520.0" stroke="#141414" stroke-width="1.2" fill="none" />
<path d="M159.0,523.0C159.4,523.5 159.9,525.5 161.4,526.0C162.9,526.5 165.4,526.4 168.0,526.3C170.6,526.2 174.0,525.8 177.0,525.4C180.0,525.0 182.7,524.6 186.0,524.2C189.3,523.9 194.2,523.8 196.8,523.3C199.4,522.8 200.8,521.6 201.6,521.2" stroke="#141414" stroke-width="1.5" fill="none" />
<path d="M162.0,522.4C164.0,521.9 169.0,520.1 174.0,519.4C179.0,518.6 187.7,518.0 192.0,517.9C196.3,517.8 198.5,518.6 199.8,518.8" stroke="#141414" stroke-width="0.7" fill="none" />
<path d="M172.3,519.8V525.6M191.7,518V524" stroke="#141414" stroke-width="1.1" fill="none" />
<path d="M202.0,517.8C203.8,518.2 209.2,519.0 212.8,520.5C216.4,522.0 220.8,524.8 223.6,526.8C226.4,528.8 228.4,530.6 229.9,532.2C231.4,533.9 232.3,535.2 232.6,536.7C232.9,538.2 231.1,539.2 231.7,541.2C232.3,543.2 234.2,545.7 236.2,548.4C238.1,551.1 241.6,554.5 243.4,557.4C245.2,560.2 246.0,562.7 247.0,565.5C248.0,568.3 248.5,570.9 249.2,574.0C249.9,577.1 250.7,580.5 251.0,584.0C251.3,587.5 251.3,591.4 251.0,594.8C250.7,598.2 250.4,601.6 249.2,604.4C248.0,607.2 245.9,609.2 243.8,611.6C241.7,614.0 238.2,616.2 236.6,618.8C235.0,621.4 234.8,623.0 234.2,627.2C233.6,631.4 233.2,638.4 233.2,644.0C233.2,649.6 233.7,654.7 234.4,661.0C235.1,667.3 236.1,673.8 237.5,682.0C238.9,690.2 241.2,702.6 242.8,710.0C244.5,717.4 246.8,723.1 247.4,726.4C248.0,729.7 246.8,728.9 246.5,729.8C246.2,730.7 245.5,731.6 245.3,732.0" stroke="#141414" stroke-width="0.8" fill="none" />
<path d="M201.1,523.2C202.8,523.4 208.3,523.8 211.0,524.1C213.7,524.4 216.2,524.9 217.3,525.0" stroke="#141414" stroke-width="0.7" fill="none" />
<path d="M221.4,546.6C222.7,547.8 226.8,551.2 229.0,553.8C231.2,556.4 233.1,559.0 234.5,562.0C235.9,565.0 236.8,568.3 237.4,572.0C238.0,575.7 238.1,580.0 237.8,584.0C237.5,588.0 236.2,592.0 235.4,596.0C234.6,600.0 233.5,604.0 233.0,608.0C232.5,612.0 232.8,615.0 232.4,620.0C232.0,625.0 230.6,631.2 230.4,638.0C230.2,644.8 230.5,653.7 231.2,661.0C231.9,668.3 233.3,673.8 234.7,682.0C236.1,690.2 237.8,701.7 239.6,710.0C241.4,718.3 244.2,727.9 245.3,732.0C246.4,736.1 245.9,734.3 246.0,734.8" stroke="#141414" stroke-width="0.8" fill="none" />
<rect x="209.8" y="511.6" width="13.2" height="6.2" rx="3.1" stroke="#141414" stroke-width="1.1" fill="#fff"/><path d="M216.9,512.2q-2,2.5 0,5.0" stroke="#141414" stroke-width="0.7"/>
<rect x="329.4" y="511.29999999999995" width="13.2" height="6.2" rx="3.1" stroke="#141414" stroke-width="1.1" fill="#fff"/><path d="M336.5,511.9q-2,2.5 0,5.0" stroke="#141414" stroke-width="0.7"/>
<path d="M282.0,521.4C283.5,522.0 287.2,523.4 291.0,525.0C294.8,526.6 300.3,529.3 304.5,531.3C308.7,533.2 314.2,535.8 316.2,536.7" stroke="#141414" stroke-width="0.8" fill="none" />
<path d="M291.9,524.1C294.8,523.2 302.7,520.1 309.0,518.7C315.3,517.4 326.2,516.5 329.7,516.0" stroke="#141414" stroke-width="0.8" fill="none" />
<path d="M316.2,536.7C316.8,536.1 317.2,534.6 319.8,533.1C322.4,531.6 327.0,529.6 331.5,527.7C336.0,525.9 341.4,523.5 347.0,522.0C352.6,520.5 359.0,519.4 365.0,519.0C371.0,518.6 379.0,519.2 383.0,519.6C387.0,520.0 388.0,521.1 389.0,521.4" stroke="#141414" stroke-width="0.8" fill="none" />
<path d="M316.2,536.7C316.4,537.5 317.7,539.2 317.1,541.2C316.5,543.2 314.9,545.5 312.6,548.4C310.4,551.2 306.0,554.7 303.6,558.3C301.2,561.9 299.6,566.9 298.2,570.0C296.8,573.1 296.2,574.6 295.4,577.0C294.6,579.4 293.9,583.3 293.6,584.6" stroke="#141414" stroke-width="0.8" fill="none" />
<path d="M347.0,522.5L299.0,588.6" stroke="#141414" stroke-width="0.8" fill="none" />
<path d="M389.0,519.6C389.8,518.9 390.8,518.2 392.6,519.0C394.4,519.8 396.6,521.5 399.8,524.4C403.0,527.3 408.6,533.0 411.8,536.4C415.0,539.8 417.6,542.8 419.0,544.8C420.4,546.8 420.4,547.4 420.2,548.4C420.0,549.4 419.2,550.6 417.8,550.8C416.4,551.0 414.4,551.0 411.8,549.6C409.2,548.2 405.6,545.6 402.2,542.4C398.8,539.2 393.8,533.6 391.4,530.4C389.0,527.2 388.2,525.0 387.8,523.2C387.4,521.4 388.2,520.3 389.0,519.6Z" stroke="#141414" stroke-width="0.8" fill="none" />
<path d="M392.0,520.5C393.7,521.8 398.5,525.2 402.0,528.5C405.5,531.8 410.2,536.9 413.0,540.0C415.8,543.1 417.8,545.8 418.8,547.0" stroke="#141414" stroke-width="0.7" fill="none" />
<path d="M419.5,549.0C419.8,550.8 421.0,557.2 421.5,560.0C422.0,562.8 422.3,564.0 422.3,566.0C422.3,568.0 421.9,568.4 421.4,572.0C420.8,575.6 420.4,582.6 419.0,587.6C417.6,592.6 415.0,597.6 413.0,602.0C411.0,606.4 408.8,611.1 407.0,614.0C405.2,616.9 403.0,618.5 402.2,619.4" stroke="#141414" stroke-width="0.8" fill="none" />
<path d="M416.5,551.0C416.8,552.5 418.1,557.5 418.5,560.0C418.9,562.5 419.1,563.7 419.0,566.0C418.9,568.3 418.2,571.0 417.8,574.0C417.4,577.0 417.2,581.1 416.6,584.0C416.0,586.9 414.6,590.0 414.2,591.2" stroke="#141414" stroke-width="0.8" fill="none" />
<path d="M414.2,591.2L349.4,636.8" stroke="#141414" stroke-width="0.8" fill="none" />
<path d="M349.4,639.2C352.0,638.4 359.8,636.8 365.0,634.4C370.2,632.0 376.0,627.3 380.6,624.8C385.2,622.3 389.0,620.3 392.6,619.4C396.2,618.5 399.4,617.7 402.2,619.4C405.0,621.1 407.2,625.9 409.4,629.6C411.6,633.3 413.8,637.2 415.4,641.6C417.0,646.0 418.3,651.6 419.0,656.0C419.7,660.4 419.8,664.0 419.6,668.0C419.4,672.0 418.9,676.4 417.8,680.0C416.7,683.6 415.2,686.2 413.0,689.6C410.8,693.0 406.7,697.8 404.6,700.4C402.5,703.0 401.1,704.4 400.4,705.2" stroke="#141414" stroke-width="0.8" fill="none" />
<path d="M400.4,705.2C399.1,705.3 395.5,706.4 392.6,705.8C389.7,705.2 386.6,703.3 383.0,701.6C379.4,699.9 375.0,697.2 371.0,695.6C367.0,694.0 362.4,692.7 359.0,692.0C355.6,691.3 352.0,691.5 350.6,691.4" stroke="#141414" stroke-width="0.8" fill="none" />
<path d="M349.4,694.4C353.0,696.4 364.4,702.8 371.0,706.4C377.6,710.0 383.8,713.0 389.0,716.0C394.2,719.0 398.8,721.4 402.2,724.4C405.6,727.4 407.6,730.4 409.4,734.0C411.2,737.6 412.6,742.0 413.0,746.0C413.4,750.0 412.4,755.0 411.8,758.0C411.2,761.0 409.8,763.0 409.4,764.0" stroke="#141414" stroke-width="0.8" fill="none" />
<path d="M400.4,705.2C401.5,706.6 404.9,709.8 407.0,713.6C409.1,717.4 411.4,723.2 413.0,728.0C414.6,732.8 416.0,738.0 416.6,742.4C417.2,746.8 417.0,750.6 416.6,754.4C416.2,758.2 414.6,763.4 414.2,765.2" stroke="#141414" stroke-width="0.8" fill="none" />
<path d="M419.0,760.0C418.0,762.4 415.6,770.0 413.0,774.4C410.4,778.8 407.4,783.0 403.4,786.4C399.4,789.8 392.8,793.0 389.0,794.8C385.2,796.6 384.6,796.6 380.6,797.2C376.6,797.8 370.6,798.8 365.0,798.4C359.4,798.0 352.0,796.0 347.0,794.8C342.0,793.6 339.1,793.0 335.0,791.2C330.9,789.4 324.5,785.2 322.4,784.0" stroke="#141414" stroke-width="0.8" fill="none" />
<path d="M381.8,791.6C380.0,792.0 375.8,793.4 371.0,794.0C366.2,794.6 359.0,795.6 353.0,795.2C347.0,794.8 338.0,792.2 335.0,791.6" stroke="#141414" stroke-width="0.7" fill="none" />
<path d="M251.0,586.4C251.8,586.1 251.8,584.9 255.8,584.6C259.8,584.3 269.0,584.4 275.0,584.4C281.0,584.4 288.6,584.4 291.8,584.6C295.0,584.8 293.2,585.1 294.2,585.8C295.2,586.5 295.0,588.0 297.8,588.8C300.6,589.6 306.4,589.2 311.0,590.6C315.6,592.0 321.0,594.3 325.4,597.2C329.8,600.1 334.2,604.2 337.4,608.0C340.6,611.8 342.8,615.4 344.6,620.0C346.4,624.6 347.3,630.2 348.2,635.6C349.1,641.0 349.6,646.0 350.0,652.4C350.4,658.8 350.8,667.4 350.6,674.0C350.4,680.6 349.6,686.0 348.8,692.0C348.0,698.0 346.3,707.0 345.8,710.0" stroke="#141414" stroke-width="0.8" fill="none" />
<path d="M251.0,594.8C251.6,594.0 253.2,591.1 254.6,590.0C256.0,588.9 256.0,588.5 259.4,588.2C262.8,587.9 269.8,588.0 275.0,588.0C280.2,588.0 287.4,587.7 290.6,588.2C293.8,588.7 290.8,590.3 294.2,591.2C297.6,592.1 305.6,591.8 311.0,593.6C316.4,595.4 322.4,599.0 326.6,602.0C330.8,605.0 333.6,608.0 336.2,611.6C338.8,615.2 340.6,619.2 342.2,623.6C343.8,628.0 344.9,633.2 345.8,638.0C346.7,642.8 347.2,646.4 347.6,652.4C348.0,658.4 348.4,667.4 348.2,674.0C348.0,680.6 347.2,686.0 346.4,692.0C345.6,698.0 343.9,707.0 343.4,710.0" stroke="#141414" stroke-width="0.8" fill="none" />
<path d="M247.2,694.0C247.0,692.5 246.6,688.0 245.9,684.8C245.2,681.6 244.2,679.0 243.1,675.0C242.0,671.0 240.3,666.8 239.6,661.0C238.8,655.2 238.7,646.2 238.6,640.0C238.5,633.8 238.1,627.5 239.0,623.6C239.9,619.7 241.8,618.6 243.8,616.4C245.8,614.2 249.4,612.8 251.0,610.4C252.6,608.0 252.4,604.6 253.4,602.0C254.4,599.4 255.6,596.1 257.0,594.8C258.4,593.5 257.4,594.4 262.0,594.3C266.6,594.2 277.4,593.7 284.6,594.2C291.8,594.7 299.4,595.7 305.0,597.2C310.6,598.7 314.2,600.4 318.2,603.2C322.2,606.0 326.2,610.2 329.0,614.0C331.8,617.8 333.4,621.6 335.0,626.0C336.6,630.4 337.8,636.8 338.6,640.4C339.4,644.0 339.6,646.4 339.8,647.6" stroke="#141414" stroke-width="0.8" fill="none" />
<path d="M257.9,720.8C257.4,719.0 255.9,714.1 255.0,710.0C254.1,705.9 252.8,700.0 252.2,696.0C251.6,692.0 250.3,689.0 251.2,686.2C252.1,683.4 255.7,682.2 257.8,679.2C259.9,676.2 262.3,672.2 263.8,668.0C265.3,663.8 266.3,658.7 266.9,654.0C267.5,649.3 268.0,644.0 267.6,640.0C267.2,636.0 266.0,633.3 264.8,630.0C263.6,626.7 262.0,623.3 260.6,620.0C259.2,616.7 257.0,613.2 256.4,610.4C255.8,607.6 256.3,605.1 257.0,603.2C257.7,601.3 256.0,599.7 260.6,599.0C265.2,598.3 277.6,598.5 284.6,599.0C291.6,599.5 297.4,600.5 302.6,602.0C307.8,603.5 311.8,605.2 315.8,608.0C319.8,610.8 323.8,615.2 326.6,618.8C329.4,622.4 331.0,626.0 332.6,629.6C334.2,633.2 335.4,637.4 336.2,640.4C337.0,643.4 337.1,644.0 337.4,647.6C337.7,651.2 338.0,658.6 338.0,662.0C338.0,665.4 337.5,667.0 337.4,668.0" stroke="#141414" stroke-width="0.8" fill="none" />
<path d="M251.0,610.4C252.0,612.4 255.3,618.8 257.0,622.4C258.7,626.0 260.3,629.1 261.2,632.0C262.1,634.9 262.4,636.3 262.4,640.0C262.4,643.7 262.0,649.3 261.3,654.0C260.6,658.7 259.6,664.1 258.2,668.0C256.8,671.9 254.9,674.3 252.9,677.1C250.9,679.9 247.1,683.5 245.9,684.8" stroke="#141414" stroke-width="0.8" fill="none" />
<path d="M249.0,707.5L253.0,722.9" stroke="#141414" stroke-width="0.8" fill="none" />
<g transform="translate(252.2 621.2) rotate(-12)"><ellipse rx="2.6" ry="3.9" stroke="#141414" stroke-width="1.1" fill="#c4c4c4"/><ellipse rx="1.3" ry="2.1" fill="#3a3a3a"/></g>
<g transform="translate(256.4 637.5) rotate(-5)"><ellipse rx="2.6" ry="3.9" stroke="#141414" stroke-width="1.1" fill="#c4c4c4"/><ellipse rx="1.3" ry="2.1" fill="#3a3a3a"/></g>
<g transform="translate(256 653.7) rotate(20)"><ellipse rx="2.6" ry="3.9" stroke="#141414" stroke-width="1.1" fill="#c4c4c4"/><ellipse rx="1.3" ry="2.1" fill="#3a3a3a"/></g>
<g transform="translate(251.5 668.7) rotate(25)"><ellipse rx="2.6" ry="3.9" stroke="#141414" stroke-width="1.1" fill="#c4c4c4"/><ellipse rx="1.3" ry="2.1" fill="#3a3a3a"/></g>
<rect x="267" y="594" width="18" height="7.6" rx="2.6" stroke="#141414" stroke-width="0.9" fill="#fff"/><rect x="269" y="596.6" width="14" height="3.4" rx="1.7" stroke="#141414" stroke-width="0.7"/>
<path d="M276,590.5V598M272.5,592.6Q276,588.6 279.5,592.6" stroke="#141414" stroke-width="0.9" fill="none" />
<g transform="translate(336.8 627.2) rotate(-25)"><rect x="-4" y="-8.5" width="8" height="17" rx="2" stroke="#141414" stroke-width="0.9" fill="#fff"/><rect x="-1.8" y="-6" width="3.6" height="12" rx="1.5" fill="#999" stroke="#141414" stroke-width="0.6"/></g>
<rect x="337.6" y="648" width="7" height="17" rx="2" stroke="#141414" stroke-width="0.9" fill="#fff"/><rect x="339.8" y="650.5" width="3" height="12" rx="1.4" fill="#999" stroke="#141414" stroke-width="0.6"/>
<circle cx="336.8" cy="672.8" r="2.4" stroke="#141414" stroke-width="0.8"/>
<rect x="242.6" y="692" width="9.4" height="18" rx="3" stroke="#141414" stroke-width="0.9" fill="#fff" transform="rotate(-9 247.3 701)"/><rect x="246.6" y="694.6" width="3" height="13" rx="1.5" fill="#555" stroke="#141414" stroke-width="0.6" transform="rotate(-9 247.3 701)"/>
<path d="M337.5,677.5C336.0,678.0 331.3,679.0 328.4,680.3C325.5,681.6 322.6,683.2 320.0,685.2C317.4,687.2 315.3,690.0 313.0,692.2C310.7,694.4 308.3,696.2 306.0,698.5C303.7,700.8 300.9,703.6 299.0,706.2C297.1,708.8 295.9,711.5 294.8,713.9C293.7,716.3 292.8,719.3 292.4,720.4" stroke="#141414" stroke-width="0.8" fill="none" />
<path d="M343.1,681.7C341.6,682.2 336.9,683.2 334.0,684.5C331.1,685.8 328.2,687.6 325.6,689.4C323.0,691.1 320.9,693.0 318.6,695.0C316.3,697.0 313.9,699.1 311.6,701.3C309.3,703.5 306.7,705.8 304.6,708.3C302.5,710.8 300.4,713.5 299.0,716.0C297.6,718.5 297.1,721.3 296.2,723.0C295.3,724.7 293.9,725.8 293.5,726.3" stroke="#141414" stroke-width="0.8" fill="none" />
<path d="M336.8,675.2C337.5,675.8 339.9,677.9 341.0,679.0C342.1,680.1 342.5,681.0 343.1,681.7C343.7,682.5 344.4,682.2 344.5,683.5C344.6,684.8 344.4,686.8 343.8,689.4C343.2,692.0 342.4,695.9 341.0,699.2C339.6,702.5 337.5,706.2 335.4,709.0C333.3,711.8 331.0,713.9 328.4,716.0C325.8,718.1 322.6,720.0 320.0,721.6C317.4,723.2 315.3,724.5 313.0,725.8C310.7,727.1 308.1,728.4 306.0,729.3C303.9,730.2 301.4,730.7 300.5,731.0" stroke="#141414" stroke-width="0.8" fill="none" />
<path d="M345.2,660.0C345.4,663.5 346.5,675.2 346.6,681.0C346.7,686.8 346.6,690.3 345.9,695.0C345.2,699.7 344.4,704.9 342.4,709.0C340.4,713.1 337.0,716.6 334.0,719.5C331.0,722.4 327.5,724.3 324.2,726.5C320.9,728.7 317.4,731.1 314.0,732.5C310.6,733.9 305.7,734.2 304.0,734.6" stroke="#141414" stroke-width="0.8" fill="none" />
<path d="M348.7,660.0C348.8,663.5 349.5,674.6 349.4,681.0C349.3,687.4 348.8,693.6 348.0,698.5C347.2,703.4 346.4,706.7 344.5,710.4C342.6,714.1 339.7,717.6 336.8,720.9C333.9,724.2 330.5,727.4 327.0,730.0C323.5,732.6 319.3,735.1 316.0,736.6C312.7,738.1 308.5,738.6 307.0,739.0" stroke="#141414" stroke-width="0.8" fill="none" />
<g transform="translate(333.3 692.9) rotate(-32)"><rect x="-8.6" y="-4.8" width="17.2" height="9.6" rx="1.2" stroke="#141414" stroke-width="0.7" fill="#fff"/></g>
<g transform="translate(333.3 692.9) rotate(-32)"><ellipse rx="5.8" ry="3.1" stroke="#141414" stroke-width="1.1" fill="#c4c4c4"/><ellipse rx="2.9" ry="1.7" fill="#3a3a3a"/></g>
<g transform="translate(305.3 720.2) rotate(-50)"><rect x="-8.6" y="-4.8" width="17.2" height="9.6" rx="1.2" stroke="#141414" stroke-width="0.7" fill="#fff"/></g>
<g transform="translate(305.3 720.2) rotate(-50)"><ellipse rx="5.8" ry="3.1" stroke="#141414" stroke-width="1.1" fill="#c4c4c4"/><ellipse rx="2.9" ry="1.7" fill="#3a3a3a"/></g>
<path d="M322.1,691.5C322.7,692.3 324.6,694.6 325.6,696.4C326.7,698.1 327.5,700.1 328.4,702.0C329.3,703.9 330.8,705.7 331.2,707.6C331.6,709.5 331.4,711.6 330.5,713.2C329.6,714.8 327.6,716.8 325.6,717.4C323.6,718.0 320.7,717.4 318.6,716.7C316.5,716.0 314.8,714.0 313.0,713.2C311.2,712.4 309.4,712.5 308.1,711.8C306.8,711.1 305.8,709.5 305.3,709.0" stroke="#141414" stroke-width="0.7" fill="none" />
<path d="M247.4,726.4C248.1,725.9 250.7,724.2 251.6,723.6C252.5,723.0 252.8,723.0 253.0,722.9" stroke="#141414" stroke-width="0.8" fill="none" />
<path d="M253.0,722.9C253.3,723.4 254.2,725.0 255.1,725.7C256.0,726.4 255.2,727.2 258.6,727.0C262.0,726.8 270.2,724.5 275.4,724.3C280.6,724.1 286.5,725.8 290.0,725.6C293.5,725.4 295.2,723.4 296.2,723.0" stroke="#141414" stroke-width="0.8" fill="none" />
<path d="M257.9,720.8C259.4,720.5 264.1,719.4 267.0,719.0C269.9,718.6 272.5,718.6 275.4,718.7C278.3,718.8 281.7,719.1 284.5,719.4C287.3,719.7 291.1,720.2 292.4,720.4" stroke="#141414" stroke-width="0.8" fill="none" />
<path d="M225.8,779.6C226.2,778.0 227.0,773.3 228.2,770.0C229.3,766.7 230.9,763.2 232.7,760.0C234.5,756.8 237.1,753.8 239.0,750.9C240.9,748.0 241.6,745.2 243.9,742.5C246.2,739.8 250.1,736.8 253.0,734.8C255.9,732.8 258.5,731.6 261.4,730.6C264.3,729.6 268.3,728.9 270.5,728.5C272.7,728.1 273.3,728.2 274.7,728.2C276.1,728.2 276.7,728.1 278.9,728.5C281.1,728.9 285.1,729.6 288.0,730.6C290.9,731.6 293.5,732.8 296.4,734.8C299.3,736.8 303.2,739.8 305.5,742.5C307.8,745.2 308.5,748.0 310.4,750.9C312.3,753.8 314.9,756.8 316.7,760.0C318.5,763.2 320.1,766.7 321.2,770.0C322.3,773.3 323.2,778.0 323.6,779.6" stroke="#141414" stroke-width="0.8" fill="none" />
<path d="M246.0,734.8C247.2,734.0 250.4,731.2 253.0,729.9C255.6,728.6 257.7,727.6 261.4,726.8C265.1,726.0 270.6,725.0 275.0,725.0C279.4,725.0 284.4,725.8 288.0,726.6C291.6,727.4 293.9,728.3 296.5,729.7C299.1,731.1 302.3,733.9 303.5,734.8" stroke="#141414" stroke-width="0.8" fill="none" />
<path d="M229.4,778.4C230.4,775.7 232.7,766.7 235.5,762.0C238.3,757.3 242.5,753.6 246.0,750.2C249.5,746.8 253.0,743.9 256.5,741.8C260.0,739.6 263.9,738.2 267.0,737.3C270.1,736.4 272.5,736.2 275.4,736.2C278.3,736.2 281.2,736.4 284.5,737.3C287.8,738.2 291.5,739.5 295.0,741.8C298.5,744.1 302.3,747.2 305.5,751.0C308.7,754.8 311.9,760.3 314.0,764.5C316.1,768.7 317.5,774.1 318.2,776.0" stroke="#141414" stroke-width="0.8" fill="none" />
<path d="M231.2,773.6L317.0,773.6" stroke="#141414" stroke-width="0.8" fill="none" />
<path d="M225.8,779.6C225.9,779.8 226.5,781.6 227.0,782.0C227.5,782.4 226.2,783.2 231.0,783.3C235.8,783.4 266.2,783.3 275.0,783.3C283.8,783.3 314.3,783.4 319.0,783.3C323.7,783.2 321.1,782.4 321.6,782.0C322.1,781.6 323.4,779.8 323.6,779.6" stroke="#141414" stroke-width="0.8" fill="none" />
<path d="M228.0,783.0C231.8,784.2 243.2,788.5 251.0,790.0C258.8,791.5 267.0,791.8 275.0,791.8C283.0,791.8 291.5,791.5 299.0,790.0C306.5,788.5 316.5,784.2 320.0,783.0" stroke="#141414" stroke-width="0.8" fill="none" />
<path d="M225.0,731.3C226.7,731.3 231.7,731.2 235.0,731.3C238.3,731.4 243.0,731.9 244.6,732.0" stroke="#141414" stroke-width="0.8" fill="none" />
<ellipse cx="275" cy="729.4" rx="4.8" ry="2.3" stroke="#141414" stroke-width="1" fill="#fff"/>
<path d="M152.6,728.4C151.0,729.2 145.8,731.2 143.0,733.2C140.2,735.2 137.6,737.6 135.8,740.4C134.0,743.2 132.6,745.8 132.2,750.0C131.8,754.2 132.0,760.6 133.4,765.6C134.8,770.6 137.4,775.8 140.6,780.0C143.8,784.2 147.8,787.8 152.6,790.8C157.4,793.8 163.0,796.4 169.4,798.0C175.8,799.6 184.2,801.0 191.0,800.4C197.8,799.8 205.0,796.2 210.0,794.4C215.0,792.6 218.1,791.2 221.0,789.4C223.9,787.6 226.4,784.4 227.5,783.4" stroke="#141414" stroke-width="0.8" fill="none" />
<path d="M155.0,727.2C155.8,728.6 157.8,732.8 159.8,735.6C161.8,738.4 164.2,741.6 167.0,744.0C169.8,746.4 172.6,748.3 176.6,750.0C180.6,751.7 184.6,753.1 191.0,754.2C197.4,755.3 208.2,756.4 215.0,756.4C221.8,756.4 227.8,755.8 232.0,754.5C236.2,753.2 238.7,749.5 240.0,748.5" stroke="#141414" stroke-width="0.8" fill="none" />
<path d="M157.4,726.0C158.6,727.8 162.2,733.8 164.6,736.8C167.0,739.8 169.4,742.0 171.8,744.0C174.2,746.0 177.8,748.0 179.0,748.8" stroke="#141414" stroke-width="0.8" fill="none" />
<path d="M171.8,740.4C173.0,740.0 174.3,738.9 179.0,738.0C183.7,737.1 194.0,735.6 200.0,735.0C206.0,734.4 209.2,734.1 215.0,734.4C220.8,734.6 230.3,735.4 235.0,736.5C239.7,737.6 241.7,740.2 243.0,741.0" stroke="#141414" stroke-width="0.8" fill="none" />
<path d="M165.8,668.0C166.0,671.7 166.6,682.7 167.0,690.0C167.4,697.3 167.5,705.3 168.2,712.0C168.9,718.7 170.4,725.3 171.0,730.0C171.6,734.7 171.3,737.7 171.8,740.4C172.3,743.1 172.8,744.6 174.0,746.0C175.2,747.4 178.2,748.3 179.0,748.8" stroke="#141414" stroke-width="0.8" fill="none" />
<ellipse cx="194.6" cy="743" rx="11.5" ry="8.5" stroke="#141414" stroke-width="0.8" fill="#fff"/><ellipse cx="194.6" cy="742.4" rx="9.2" ry="6.6" stroke="#141414" stroke-width="1.3"/><ellipse cx="194.6" cy="742.1" rx="6.7" ry="4.4" stroke="#141414" stroke-width="0.8"/><path d="M188.8,742.1h11.5M194.6,738.8v6.8" stroke="#141414" stroke-width="0.7"/>
<ellipse cx="225.2" cy="740" rx="11.5" ry="8.5" stroke="#141414" stroke-width="0.8" fill="#fff"/><ellipse cx="225.2" cy="739.4" rx="9.2" ry="6.6" stroke="#141414" stroke-width="1.3"/><ellipse cx="225.2" cy="739.1" rx="6.7" ry="4.4" stroke="#141414" stroke-width="0.8"/><path d="M219.4,739.1h11.5M225.2,735.8v6.8" stroke="#141414" stroke-width="0.7"/>
<ellipse cx="275.25" cy="539" rx="12.6" ry="8.8" stroke="#141414" stroke-width="0.8" fill="#fff"/><ellipse cx="275.25" cy="538.4" rx="10.1" ry="6.9" stroke="#141414" stroke-width="1.3"/><ellipse cx="275.25" cy="538.1" rx="7.3" ry="4.6" stroke="#141414" stroke-width="0.8"/><path d="M268.9,538.1h12.6M275.2,534.6v7.0" stroke="#141414" stroke-width="0.7"/>
<path d="M119.6,661 Q119.6,655.4 124.6,655.6 L160,659.2 Q166,660 166.5,668 L165.3,718.5 Q165,724 160,724.7 L126,728.8 Q119.6,729.4 119.6,723.5 Z" stroke="#141414" stroke-width="1.5" fill="#fff" />
<path d="M154,659 C161,675 163,690 162.8,700 C162.6,710 160,718 155.5,724.6 L147,725.6 C152,716 154.2,706 154.2,694 C154.2,680 151,668 146,658.2 Z" stroke="#141414" stroke-width="0.6" fill="#9a9a9a" />
<path d="M148.0,662.0q5,2 9,8M148.9,667.6q5,2 9,8M149.8,673.2q5,2 9,8M150.7,678.8q5,2 9,8M151.6,684.4q5,2 9,8M152.5,690.0q5,2 9,8M152.5,695.6q5,2 9,8M152.5,701.2q5,2 9,8M152.5,706.8q5,2 9,8M152.5,712.4q5,2 9,8M152.5,718.0q5,2 9,8" stroke="#e6e6e6" stroke-width="0.7" fill="none" />
<path d="M141.8,658.0C142.8,660.3 146.5,666.2 148.0,672.0C149.5,677.8 150.7,686.1 150.8,692.8C150.9,699.5 149.7,706.5 148.4,712.0C147.1,717.5 143.9,723.3 143.0,725.6" stroke="#141414" stroke-width="0.7" fill="none" />
<path d="M144.2,658.0C145.3,660.2 149.2,665.4 150.8,671.2C152.4,677.0 153.7,686.0 153.8,692.8C153.9,699.6 152.7,706.6 151.4,712.0C150.1,717.4 146.9,722.8 146.0,725.0" stroke="#141414" stroke-width="0.7" fill="none" />
<path d="M134.6,661.6C136.2,664.0 142.2,670.8 144.2,676.0C146.2,681.2 146.6,687.2 146.6,692.8C146.6,698.4 145.8,704.8 144.2,709.6C142.6,714.4 139.4,719.2 137.0,721.6C134.6,724.0 131.0,723.6 129.8,724.0" stroke="#141414" stroke-width="0.8" fill="none" />
<path d="M120.8,664.6C121.9,664.2 126.3,662.6 127.4,662.2" stroke="#141414" stroke-width="0.8" fill="none" />
<path d="M121.5,720.0C122.4,720.8 125.1,723.8 127.0,724.5C128.9,725.2 132.0,724.1 133.0,724.0" stroke="#141414" stroke-width="0.7" fill="none" />
<path d="M156.8,659.8C157.9,662.1 162.0,668.9 163.4,673.6C164.8,678.3 164.9,685.6 165.2,688.0" stroke="#141414" stroke-width="0.7" fill="none" />
<circle cx="127.4" cy="626.4" r="9.2" stroke="#141414" stroke-width="0.8" fill="#fff"/><circle cx="127.4" cy="626.4" r="7.3" stroke="#141414" stroke-width="0.8"/><rect x="126.30000000000001" y="620.4" width="2.2" height="12" rx="0.8" fill="#141414"/>
<circle cx="134.8" cy="626" r="2.2" stroke="#141414" stroke-width="0.7" fill="#fff"/>
<circle cx="422.2" cy="620.8" r="9.6" stroke="#141414" stroke-width="0.8" fill="#fff"/><circle cx="422.2" cy="620.8" r="7.7" stroke="#141414" stroke-width="0.8"/><rect x="421.09999999999997" y="614.8" width="2.2" height="12" rx="0.8" fill="#141414"/>
<circle cx="414.6" cy="621" r="2.2" stroke="#141414" stroke-width="0.7" fill="#fff"/>
<circle cx="422.6" cy="704.6" r="8.5" stroke="#141414" stroke-width="0.8" fill="#fff"/><rect x="421.5" y="698.6" width="2.2" height="12" rx="0.8" fill="#141414"/>
<g transform="translate(124.8 604.4) rotate(15)"><ellipse rx="3" ry="5" stroke="#141414" stroke-width="0.9" fill="#fff"/><ellipse rx="1.5" ry="2.4" cx="0.4" stroke="#141414" stroke-width="0.7" fill="#ccc"/></g>
<g transform="translate(422.2 596.2) rotate(8)"><ellipse rx="3" ry="5" stroke="#141414" stroke-width="0.9" fill="#fff"/><ellipse rx="1.5" ry="2.4" cx="0.4" stroke="#141414" stroke-width="0.7" fill="#ccc"/></g>
<g transform="translate(420.8 728) rotate(-15)"><ellipse rx="3" ry="5" stroke="#141414" stroke-width="0.9" fill="#fff"/><ellipse rx="1.5" ry="2.4" cx="0.4" stroke="#141414" stroke-width="0.7" fill="#ccc"/></g>
<circle cx="149.6" cy="614.6" r="2.7" stroke="#141414" stroke-width="0.9" fill="#bbb"/>
<circle cx="241.3" cy="601.8" r="2.7" stroke="#141414" stroke-width="0.9" fill="#bbb"/>
<g transform="translate(183.8 651.2) rotate(-10)"><ellipse rx="3.4" ry="2.2" stroke="#141414" stroke-width="1.1" fill="#c4c4c4"/><ellipse rx="1.7" ry="1.2" fill="#3a3a3a"/></g>
<g transform="translate(213.2 648.2) rotate(-10)"><ellipse rx="3.4" ry="2.2" stroke="#141414" stroke-width="1.1" fill="#c4c4c4"/><ellipse rx="1.7" ry="1.2" fill="#3a3a3a"/></g>
<g transform="translate(185.6 671) rotate(-10)"><ellipse rx="3.4" ry="2.2" stroke="#141414" stroke-width="1.1" fill="#c4c4c4"/><ellipse rx="1.7" ry="1.2" fill="#3a3a3a"/></g>
<g transform="translate(213.8 668) rotate(-10)"><ellipse rx="3.4" ry="2.2" stroke="#141414" stroke-width="1.1" fill="#c4c4c4"/><ellipse rx="1.7" ry="1.2" fill="#3a3a3a"/></g>
<g transform="translate(188.6 689) rotate(-10)"><ellipse rx="3.4" ry="2.2" stroke="#141414" stroke-width="1.1" fill="#c4c4c4"/><ellipse rx="1.7" ry="1.2" fill="#3a3a3a"/></g>
<g transform="translate(216 684.5) rotate(-10)"><ellipse rx="3.4" ry="2.2" stroke="#141414" stroke-width="1.1" fill="#c4c4c4"/><ellipse rx="1.7" ry="1.2" fill="#3a3a3a"/></g>
<g transform="translate(390.2 662) rotate(-3)"><ellipse rx="4.4" ry="7.8" stroke="#141414" stroke-width="1.1" fill="#c4c4c4"/><ellipse rx="2.2" ry="4.3" fill="#3a3a3a"/></g>
<g transform="translate(406.4 661.4) rotate(3)"><ellipse rx="4.4" ry="7.8" stroke="#141414" stroke-width="1.1" fill="#c4c4c4"/><ellipse rx="2.2" ry="4.3" fill="#3a3a3a"/></g>
<g transform="translate(171.5 529.9) rotate(3)"><ellipse rx="6.8" ry="3.4" stroke="#555" stroke-width="0.6" fill="#fff"/><ellipse rx="5.4" ry="2.7" stroke="#141414" stroke-width="1.7" fill="#fff"/><ellipse rx="3.4" ry="1.6" stroke="#666" stroke-width="0.5"/><path d="M-1.5,0h0.1M1.5,0h0.1" stroke="#333" stroke-width="1.1"/></g>
<g transform="translate(193.4 527.2) rotate(-3)"><ellipse rx="6.8" ry="3.3" stroke="#555" stroke-width="0.6" fill="#fff"/><ellipse rx="5.4" ry="2.6" stroke="#141414" stroke-width="1.7" fill="#fff"/><ellipse rx="3.4" ry="1.5" stroke="#666" stroke-width="0.5"/><path d="M-1.5,0h0.1M1.5,0h0.1" stroke="#333" stroke-width="1.1"/></g>
<g transform="translate(171.8 544.6) rotate(-20)"><ellipse rx="8.2" ry="4.4" stroke="#141414" stroke-width="1.25" fill="#fff"/><ellipse rx="5.1" ry="2.3" cy="1.1" stroke="#141414" stroke-width="0.6" fill="#fff"/><ellipse rx="2.8" ry="1.1" cx="0.7" cy="1.0" fill="#3a3a3a"/><path d="M-3.7,0.4q2.5,-2.2 6.6,-0.7" stroke="#141414" stroke-width="0.6"/></g>
<g transform="translate(195.2 540.8) rotate(5)"><ellipse rx="8.2" ry="4.4" stroke="#141414" stroke-width="1.25" fill="#fff"/><ellipse rx="5.1" ry="2.3" cy="1.1" stroke="#141414" stroke-width="0.6" fill="#fff"/><ellipse rx="2.8" ry="1.1" cx="0.7" cy="1.0" fill="#3a3a3a"/><path d="M-3.7,0.4q2.5,-2.2 6.6,-0.7" stroke="#141414" stroke-width="0.6"/></g>
<g transform="translate(209 551.8) rotate(10)"><ellipse rx="8.2" ry="4.4" stroke="#141414" stroke-width="1.25" fill="#fff"/><ellipse rx="5.1" ry="2.3" cy="1.1" stroke="#141414" stroke-width="0.6" fill="#fff"/><ellipse rx="2.8" ry="1.1" cx="0.7" cy="1.0" fill="#3a3a3a"/><path d="M-3.7,0.4q2.5,-2.2 6.6,-0.7" stroke="#141414" stroke-width="0.6"/></g>
<g transform="translate(162.2 559.2) rotate(-30)"><ellipse rx="8.2" ry="4.4" stroke="#141414" stroke-width="1.25" fill="#fff"/><ellipse rx="5.1" ry="2.3" cy="1.1" stroke="#141414" stroke-width="0.6" fill="#fff"/><ellipse rx="2.8" ry="1.1" cx="0.7" cy="1.0" fill="#3a3a3a"/><path d="M-3.7,0.4q2.5,-2.2 6.6,-0.7" stroke="#141414" stroke-width="0.6"/></g>
<g transform="translate(175.6 568.4) rotate(-15)"><ellipse rx="8.2" ry="4.4" stroke="#141414" stroke-width="1.25" fill="#fff"/><ellipse rx="5.1" ry="2.3" cy="1.1" stroke="#141414" stroke-width="0.6" fill="#fff"/><ellipse rx="2.8" ry="1.1" cx="0.7" cy="1.0" fill="#3a3a3a"/><path d="M-3.7,0.4q2.5,-2.2 6.6,-0.7" stroke="#141414" stroke-width="0.6"/></g>
<g transform="translate(199 564.6) rotate(0)"><ellipse rx="8.2" ry="4.4" stroke="#141414" stroke-width="1.25" fill="#fff"/><ellipse rx="5.1" ry="2.3" cy="1.1" stroke="#141414" stroke-width="0.6" fill="#fff"/><ellipse rx="2.8" ry="1.1" cx="0.7" cy="1.0" fill="#3a3a3a"/><path d="M-3.7,0.4q2.5,-2.2 6.6,-0.7" stroke="#141414" stroke-width="0.6"/></g>
<g transform="translate(357 541.7) rotate(25)"><ellipse rx="7" ry="4.2" stroke="#555" stroke-width="0.6" fill="#fff"/><ellipse rx="5.6" ry="3.3" stroke="#141414" stroke-width="1.7" fill="#fff"/><ellipse rx="3.5" ry="1.9" stroke="#666" stroke-width="0.5"/><path d="M-1.5,0h0.1M1.5,0h0.1" stroke="#333" stroke-width="1.1"/></g>
<g transform="translate(389.9 531.5) rotate(50)"><ellipse rx="5.2" ry="3.5" stroke="#555" stroke-width="0.6" fill="#fff"/><ellipse rx="4.2" ry="2.7" stroke="#141414" stroke-width="1.7" fill="#fff"/><ellipse rx="2.6" ry="1.6" stroke="#666" stroke-width="0.5"/><path d="M-1.1,0h0.1M1.1,0h0.1" stroke="#333" stroke-width="1.1"/></g>
<g transform="translate(377.3 550.4) rotate(35)"><ellipse rx="7.7" ry="4.5" stroke="#555" stroke-width="0.6" fill="#fff"/><ellipse rx="6.2" ry="3.5" stroke="#141414" stroke-width="1.7" fill="#fff"/><ellipse rx="3.9" ry="2.1" stroke="#666" stroke-width="0.5"/><path d="M-1.7,0h0.1M1.7,0h0.1" stroke="#333" stroke-width="1.1"/></g>
<g transform="translate(361.5 560.6) rotate(30)"><ellipse rx="7.7" ry="4.2" stroke="#555" stroke-width="0.6" fill="#fff"/><ellipse rx="6.2" ry="3.3" stroke="#141414" stroke-width="1.7" fill="#fff"/><ellipse rx="3.9" ry="1.9" stroke="#666" stroke-width="0.5"/><path d="M-1.7,0h0.1M1.7,0h0.1" stroke="#333" stroke-width="1.1"/></g>
<g transform="translate(405.3 546.2) rotate(55)"><ellipse rx="5.6" ry="3.5" stroke="#555" stroke-width="0.6" fill="#fff"/><ellipse rx="4.5" ry="2.7" stroke="#141414" stroke-width="1.7" fill="#fff"/><ellipse rx="2.8" ry="1.6" stroke="#666" stroke-width="0.5"/><path d="M-1.2,0h0.1M1.2,0h0.1" stroke="#333" stroke-width="1.1"/></g>
<g transform="translate(389.5 564.1) rotate(-30)"><ellipse rx="4.5" ry="7.4" stroke="#555" stroke-width="0.6" fill="#fff"/><ellipse rx="3.6" ry="5.8" stroke="#141414" stroke-width="1.7" fill="#fff"/><ellipse rx="2.2" ry="3.4" stroke="#666" stroke-width="0.5"/><path d="M0,-1.6v0.1M0,1.6v0.1" stroke="#333" stroke-width="1.1"/></g>
<g transform="translate(378.7 576) rotate(-25)"><ellipse rx="4.5" ry="7.4" stroke="#555" stroke-width="0.6" fill="#fff"/><ellipse rx="3.6" ry="5.8" stroke="#141414" stroke-width="1.7" fill="#fff"/><ellipse rx="2.2" ry="3.4" stroke="#666" stroke-width="0.5"/><path d="M0,-1.6v0.1M0,1.6v0.1" stroke="#333" stroke-width="1.1"/></g>
<g transform="translate(396.2 584.4) rotate(-22)"><ellipse rx="4.2" ry="7.4" stroke="#555" stroke-width="0.6" fill="#fff"/><ellipse rx="3.4" ry="5.8" stroke="#141414" stroke-width="1.7" fill="#fff"/><ellipse rx="2.1" ry="3.4" stroke="#666" stroke-width="0.5"/><path d="M0,-1.6v0.1M0,1.6v0.1" stroke="#333" stroke-width="1.1"/></g>
<g transform="translate(366.1 531.9) rotate(8)"><ellipse rx="8.7" ry="4.2" stroke="#141414" stroke-width="0.7" fill="#fff"/><ellipse rx="6.4" ry="3.0" stroke="#141414" stroke-width="0.7" fill="#fff"/><ellipse rx="4.0" ry="1.8" fill="#222"/></g>
<g transform="translate(383.6 539.2) rotate(40)"><ellipse rx="8.4" ry="4.5" stroke="#141414" stroke-width="0.7" fill="#fff"/><ellipse rx="6.2" ry="3.2" stroke="#141414" stroke-width="0.7" fill="#fff"/><ellipse rx="3.9" ry="1.9" fill="#222"/></g>
<g transform="translate(399 554.3) rotate(-20)"><ellipse rx="4.2" ry="8.4" stroke="#141414" stroke-width="0.7" fill="#fff"/><ellipse rx="3.1" ry="6.0" stroke="#141414" stroke-width="0.7" fill="#fff"/><ellipse rx="1.9" ry="3.5" fill="#222"/></g>
<g transform="translate(407 571.8) rotate(5)"><ellipse rx="3.9" ry="8.4" stroke="#141414" stroke-width="0.7" fill="#fff"/><ellipse rx="2.9" ry="6.0" stroke="#141414" stroke-width="0.7" fill="#fff"/><ellipse rx="1.8" ry="3.5" fill="#222"/></g>
<g transform="translate(156.2 759.6) rotate(40)"><ellipse rx="7" ry="4.6" stroke="#555" stroke-width="0.6" fill="#fff"/><ellipse rx="5.6" ry="3.6" stroke="#141414" stroke-width="1.7" fill="#fff"/><ellipse rx="3.5" ry="2.1" stroke="#666" stroke-width="0.5"/><path d="M-1.5,0h0.1M1.5,0h0.1" stroke="#333" stroke-width="1.1"/></g>
<g transform="translate(161 780.6) rotate(30)"><ellipse rx="7" ry="4.6" stroke="#555" stroke-width="0.6" fill="#fff"/><ellipse rx="5.6" ry="3.6" stroke="#141414" stroke-width="1.7" fill="#fff"/><ellipse rx="3.5" ry="2.1" stroke="#666" stroke-width="0.5"/><path d="M-1.5,0h0.1M1.5,0h0.1" stroke="#333" stroke-width="1.1"/></g>
<g transform="translate(183.8 780) rotate(10)"><ellipse rx="7.4" ry="4.4" stroke="#555" stroke-width="0.6" fill="#fff"/><ellipse rx="5.9" ry="3.4" stroke="#141414" stroke-width="1.7" fill="#fff"/><ellipse rx="3.7" ry="2.0" stroke="#666" stroke-width="0.5"/><path d="M-1.6,0h0.1M1.6,0h0.1" stroke="#333" stroke-width="1.1"/></g>
<rect x="194.2" y="801.9000000000001" width="14" height="6.6" rx="3.3" stroke="#141414" stroke-width="1.1" fill="#fff"/><path d="M201.7,802.6q-2,2.6 0,5.3" stroke="#141414" stroke-width="0.7"/>
<rect x="340.8" y="801.1" width="14.8" height="6.6" rx="3.3" stroke="#141414" stroke-width="1.1" fill="#fff"/><path d="M348.7,801.8q-2,2.6 0,5.3" stroke="#141414" stroke-width="0.7"/>
<circle cx="224" cy="798.4" r="7.6" stroke="#141414" stroke-width="1" fill="#fff"/><circle cx="224" cy="798.4" r="6.0" stroke="#141414" stroke-width="1.6" stroke-dasharray="1 0.8" stroke-linecap="butt"/><circle cx="224" cy="798.4" r="4.0" stroke="#141414" stroke-width="0.8"/><circle cx="224" cy="798.4" r="1.6" fill="#666"/>
<circle cx="323.6" cy="798.4" r="7.6" stroke="#141414" stroke-width="1" fill="#fff"/><circle cx="323.6" cy="798.4" r="6.0" stroke="#141414" stroke-width="1.6" stroke-dasharray="1 0.8" stroke-linecap="butt"/><circle cx="323.6" cy="798.4" r="4.0" stroke="#141414" stroke-width="0.8"/><circle cx="323.6" cy="798.4" r="1.6" fill="#666"/>
<g transform="translate(389.6 739.4) rotate(-52)"><ellipse rx="14.5" ry="7.6" stroke="#444" stroke-width="0.6" fill="#fff"/><ellipse rx="12.2" ry="6.4" stroke="#333" stroke-width="0.6" fill="#fff"/><ellipse rx="8.7" ry="4.6" stroke="#333" stroke-width="0.7" fill="#fff"/><ellipse rx="5.5" ry="2.9" stroke="#555" stroke-width="0.55" fill="#fff"/><ellipse rx="2.9" ry="1.2" fill="#666"/></g>
<g transform="translate(357.2 768.2) rotate(-28)"><ellipse rx="14.5" ry="8.0" stroke="#444" stroke-width="0.6" fill="#fff"/><ellipse rx="12.2" ry="6.7" stroke="#333" stroke-width="0.6" fill="#fff"/><ellipse rx="8.7" ry="4.8" stroke="#333" stroke-width="0.7" fill="#fff"/><ellipse rx="5.5" ry="3.0" stroke="#555" stroke-width="0.55" fill="#fff"/><ellipse rx="2.9" ry="1.3" fill="#666"/></g>
<g transform="translate(384.2 768.2) rotate(-42)"><ellipse rx="14.0" ry="8.0" stroke="#444" stroke-width="0.6" fill="#fff"/><ellipse rx="11.8" ry="6.7" stroke="#333" stroke-width="0.6" fill="#fff"/><ellipse rx="8.4" ry="4.8" stroke="#333" stroke-width="0.7" fill="#fff"/><ellipse rx="5.3" ry="3.0" stroke="#555" stroke-width="0.55" fill="#fff"/><ellipse rx="2.8" ry="1.3" fill="#666"/></g>
<path d="M381.8,794.0C381.4,792.5 381.2,789.8 383.0,788.0C384.8,786.2 389.4,786.0 392.6,783.2C395.8,780.4 399.8,774.0 402.2,771.2C404.6,768.4 405.4,767.3 407.0,766.4C408.6,765.5 410.6,765.4 411.8,765.8C413.0,766.2 414.2,767.3 414.2,768.8C414.2,770.3 413.8,772.0 411.8,774.8C409.8,777.6 405.4,782.6 402.2,785.6C399.0,788.6 395.4,790.9 392.6,792.8C389.8,794.7 387.2,796.8 385.4,797.0C383.6,797.2 382.2,795.5 381.8,794.0Z" stroke="#141414" stroke-width="0.9" fill="#fff" />
<path d="M385.4,797.0C386.6,796.3 389.8,794.7 392.6,792.8C395.4,790.9 399.0,788.6 402.2,785.6C405.4,782.6 409.9,777.4 411.8,774.8C413.7,772.2 413.3,770.8 413.6,770.0" stroke="#141414" stroke-width="1.6" fill="none" />
<path d="M391.6,788.6 L396,793.6 M406.5,771.5 L411.5,776.5" stroke="#141414" stroke-width="1.2" fill="none" />
<g transform="translate(386.6 783.8) rotate(-38)"><ellipse rx="6" ry="4" stroke="#555" stroke-width="0.6" fill="#fff"/><ellipse rx="4.8" ry="3.1" stroke="#141414" stroke-width="1.7" fill="#fff"/><ellipse rx="3.0" ry="1.8" stroke="#666" stroke-width="0.5"/><path d="M-1.3,0h0.1M1.3,0h0.1" stroke="#333" stroke-width="1.1"/></g>
<g transform="translate(401.24 769.76) rotate(-38)"><ellipse rx="6" ry="4" stroke="#555" stroke-width="0.6" fill="#fff"/><ellipse rx="4.8" ry="3.1" stroke="#141414" stroke-width="1.7" fill="#fff"/><ellipse rx="3.0" ry="1.8" stroke="#666" stroke-width="0.5"/><path d="M-1.3,0h0.1M1.3,0h0.1" stroke="#333" stroke-width="1.1"/></g>
<path d="M251.0,810.4C251.5,808.4 252.2,807.9 254.6,806.8C257.0,805.7 262.0,804.4 265.4,803.8C268.8,803.2 271.8,803.2 275.0,803.2C278.2,803.2 281.4,803.2 284.6,803.8C287.8,804.4 292.0,805.5 294.2,806.8C296.4,808.1 297.4,809.4 297.8,811.6C298.2,813.8 297.6,817.7 296.6,820.0C295.6,822.3 294.2,824.2 291.8,825.4C289.4,826.6 286.4,826.9 282.2,827.2C278.0,827.5 270.8,827.5 266.6,827.2C262.4,826.9 259.5,826.8 257.0,825.4C254.5,824.0 252.6,821.3 251.6,818.8C250.6,816.3 250.5,812.4 251.0,810.4Z" stroke="#141414" stroke-width="1.0" fill="#fff" />
<path d="M253.6,811.4C254.0,809.6 254.4,809.2 256.4,808.2C258.4,807.3 262.3,806.1 265.4,805.6C268.5,805.1 271.8,805.1 275.0,805.1C278.2,805.1 281.6,805.1 284.6,805.6C287.6,806.1 291.2,807.1 293.0,808.2C294.8,809.3 295.4,810.3 295.6,812.2C295.9,814.1 295.5,817.5 294.7,819.4C293.8,821.3 292.7,822.8 290.6,823.8C288.5,824.9 286.2,825.2 282.2,825.5C278.2,825.8 270.5,825.8 266.6,825.5C262.7,825.2 260.9,825.0 258.8,823.8C256.7,822.7 255.0,820.6 254.1,818.6C253.3,816.5 253.3,813.1 253.6,811.4Z" stroke="#141414" stroke-width="0.7" fill="none" />
<path d="M262.4,807.4L287.0,807.4L285.2,817.6L282.2,822.4L267.8,822.4L264.2,817.6Z" stroke="#141414" stroke-width="0.9" fill="none" />
<path d="M264.8,808.6L284.6,808.6L282.8,817.6L280.4,820.6L269.6,820.6L266.6,817.6Z" stroke="#141414" stroke-width="0.7" fill="none" />
<rect x="269.6" y="810.4" width="10.2" height="7.4" fill="#bdbdbd" stroke="#141414" stroke-width="1.1"/>
<ellipse cx="275" cy="823.2" rx="3.4" ry="1.5" fill="#141414"/>
<line x1="81" y1="653" x2="464" y2="653" stroke="#3a3a3a" stroke-width="1.5" stroke-dasharray="11.5 3 2.6 3" stroke-linecap="butt"/>
<line x1="275.9" y1="471" x2="275.9" y2="836" stroke="#3a3a3a" stroke-width="1.5" stroke-dasharray="11.5 3 2.6 3" stroke-linecap="butt"/>
<line x1="330" y1="485.7" x2="492.4" y2="485.7" stroke="#6c7174" stroke-width="1" stroke-linecap="butt"/>
<line x1="419" y1="830.7" x2="492.9" y2="830.7" stroke="#6c7174" stroke-width="1" stroke-linecap="butt"/>
<line x1="492.5" y1="485.7" x2="492.5" y2="830.7" stroke="#6c7174" stroke-width="1" stroke-linecap="butt"/>
<line x1="97.8" y1="690" x2="97.8" y2="880.5" stroke="#6c7174" stroke-width="1" stroke-linecap="butt"/>
<line x1="449.2" y1="800" x2="449.2" y2="880.5" stroke="#6c7174" stroke-width="1" stroke-linecap="butt"/>
<line x1="97.8" y1="880.5" x2="449.2" y2="880.5" stroke="#6c7174" stroke-width="1" stroke-linecap="butt"/>
<circle cx="492.5" cy="485.7" r="2.3" fill="#141414"/>
<circle cx="492.7" cy="830.7" r="2.3" fill="#141414"/>
<circle cx="97.8" cy="880.5" r="2.3" fill="#141414"/>
<circle cx="449.2" cy="880.5" r="2.3" fill="#141414"/>
<text x="279.3" y="877" font-size="20" font-weight="bold" text-anchor="middle" fill="#141414" stroke="#141414" stroke-width="0.3" stroke-linejoin="miter" textLength="40.2" lengthAdjust="spacingAndGlyphs" >213,5</text>
<text x="489.1" y="649.3" font-size="20" font-weight="bold" text-anchor="middle" fill="#141414" stroke="#141414" stroke-width="0.3" stroke-linejoin="miter" textLength="40" lengthAdjust="spacingAndGlyphs" transform="rotate(-90 489.1 649.3)" >213,5</text>
<text x="62.5" y="463.8" font-size="20" font-weight="bold" text-anchor="middle" fill="#141414" stroke="#141414" stroke-width="0.3" stroke-linejoin="miter" textLength="58.4" lengthAdjust="spacingAndGlyphs" >R = 38 *</text>
<text x="56.5" y="856.2" font-size="20" font-weight="bold" text-anchor="middle" fill="#141414" stroke="#141414" stroke-width="0.3" stroke-linejoin="miter" textLength="58.6" lengthAdjust="spacingAndGlyphs" >R = 20 *</text>
<path d="M42.8,467.1 L80.4,467.1 L115.5,503" stroke="#444" stroke-width="0.9" fill="none" />
<path d="M116.9,504.4 L109.8,500.2 L113,497 Z" stroke="#222" stroke-width="0.6" fill="#222" />
<path d="M30,861.3 L77.2,861.3 L111,827" stroke="#444" stroke-width="0.9" fill="none" />
<path d="M112.4,825.6 L108.2,832.8 L105,829.6 Z" stroke="#222" stroke-width="0.6" fill="#222" />
</g>
</svg>
</body>
</html>
